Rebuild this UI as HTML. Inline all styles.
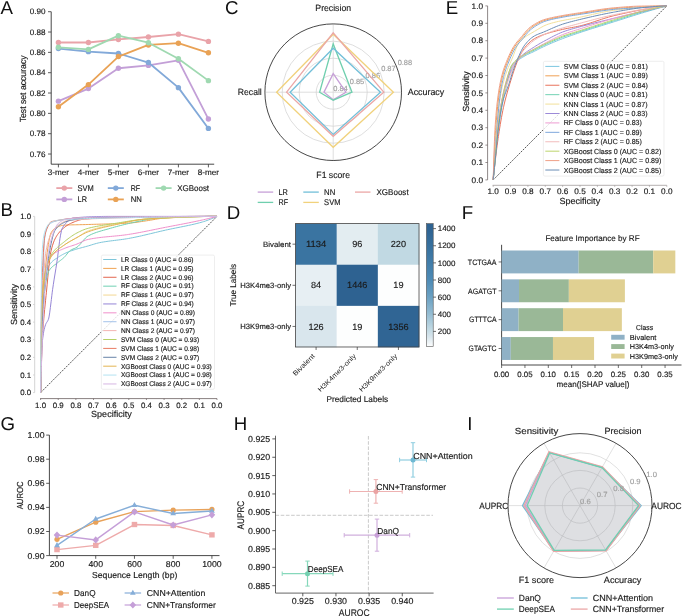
<!DOCTYPE html><html><head><meta charset="utf-8"><style>html,body{margin:0;padding:0;background:#fff;}svg{display:block;}text{font-family:"Liberation Sans",sans-serif;text-rendering:geometricPrecision;}</style></head><body>
<svg style="will-change:transform" width="685" height="616" viewBox="0 0 685 616">
<rect width="685" height="616" fill="#fff"/>
<text x="0.56" y="13.60" font-size="18.7" fill="#111">A</text>
<line x1="51.20" y1="11.70" x2="51.20" y2="164.20" stroke="#333" stroke-width="0.9"/>
<line x1="51.20" y1="164.20" x2="214.20" y2="164.20" stroke="#333" stroke-width="0.9"/>
<line x1="48.00" y1="154.03" x2="51.20" y2="154.03" stroke="#333" stroke-width="0.8"/>
<text x="45.60" y="156.77" font-size="7.95" text-anchor="end" fill="#1a1a1a" stroke="#1a1a1a" stroke-width="0.15" textLength="15.81" lengthAdjust="spacingAndGlyphs">0.76</text>
<line x1="48.00" y1="133.70" x2="51.20" y2="133.70" stroke="#333" stroke-width="0.8"/>
<text x="45.60" y="136.43" font-size="7.95" text-anchor="end" fill="#1a1a1a" stroke="#1a1a1a" stroke-width="0.15" textLength="15.81" lengthAdjust="spacingAndGlyphs">0.78</text>
<line x1="48.00" y1="113.37" x2="51.20" y2="113.37" stroke="#333" stroke-width="0.8"/>
<text x="45.60" y="116.10" font-size="7.95" text-anchor="end" fill="#1a1a1a" stroke="#1a1a1a" stroke-width="0.15" textLength="15.81" lengthAdjust="spacingAndGlyphs">0.80</text>
<line x1="48.00" y1="93.03" x2="51.20" y2="93.03" stroke="#333" stroke-width="0.8"/>
<text x="45.60" y="95.77" font-size="7.95" text-anchor="end" fill="#1a1a1a" stroke="#1a1a1a" stroke-width="0.15" textLength="15.81" lengthAdjust="spacingAndGlyphs">0.82</text>
<line x1="48.00" y1="72.70" x2="51.20" y2="72.70" stroke="#333" stroke-width="0.8"/>
<text x="45.60" y="75.43" font-size="7.95" text-anchor="end" fill="#1a1a1a" stroke="#1a1a1a" stroke-width="0.15" textLength="15.81" lengthAdjust="spacingAndGlyphs">0.84</text>
<line x1="48.00" y1="52.37" x2="51.20" y2="52.37" stroke="#333" stroke-width="0.8"/>
<text x="45.60" y="55.10" font-size="7.95" text-anchor="end" fill="#1a1a1a" stroke="#1a1a1a" stroke-width="0.15" textLength="15.81" lengthAdjust="spacingAndGlyphs">0.86</text>
<line x1="48.00" y1="32.03" x2="51.20" y2="32.03" stroke="#333" stroke-width="0.8"/>
<text x="45.60" y="34.77" font-size="7.95" text-anchor="end" fill="#1a1a1a" stroke="#1a1a1a" stroke-width="0.15" textLength="15.81" lengthAdjust="spacingAndGlyphs">0.88</text>
<line x1="48.00" y1="11.70" x2="51.20" y2="11.70" stroke="#333" stroke-width="0.8"/>
<text x="45.60" y="14.43" font-size="7.95" text-anchor="end" fill="#1a1a1a" stroke="#1a1a1a" stroke-width="0.15" textLength="15.81" lengthAdjust="spacingAndGlyphs">0.90</text>
<line x1="58.40" y1="164.20" x2="58.40" y2="167.40" stroke="#333" stroke-width="0.8"/>
<text x="58.40" y="175.33" font-size="7.95" text-anchor="middle" fill="#1a1a1a" stroke="#1a1a1a" stroke-width="0.15" textLength="21.28" lengthAdjust="spacingAndGlyphs">3-mer</text>
<line x1="88.40" y1="164.20" x2="88.40" y2="167.40" stroke="#333" stroke-width="0.8"/>
<text x="88.40" y="175.33" font-size="7.95" text-anchor="middle" fill="#1a1a1a" stroke="#1a1a1a" stroke-width="0.15" textLength="21.28" lengthAdjust="spacingAndGlyphs">4-mer</text>
<line x1="118.40" y1="164.20" x2="118.40" y2="167.40" stroke="#333" stroke-width="0.8"/>
<text x="118.40" y="175.33" font-size="7.95" text-anchor="middle" fill="#1a1a1a" stroke="#1a1a1a" stroke-width="0.15" textLength="21.28" lengthAdjust="spacingAndGlyphs">5-mer</text>
<line x1="148.40" y1="164.20" x2="148.40" y2="167.40" stroke="#333" stroke-width="0.8"/>
<text x="148.40" y="175.33" font-size="7.95" text-anchor="middle" fill="#1a1a1a" stroke="#1a1a1a" stroke-width="0.15" textLength="21.28" lengthAdjust="spacingAndGlyphs">6-mer</text>
<line x1="178.40" y1="164.20" x2="178.40" y2="167.40" stroke="#333" stroke-width="0.8"/>
<text x="178.40" y="175.33" font-size="7.95" text-anchor="middle" fill="#1a1a1a" stroke="#1a1a1a" stroke-width="0.15" textLength="21.28" lengthAdjust="spacingAndGlyphs">7-mer</text>
<line x1="208.40" y1="164.20" x2="208.40" y2="167.40" stroke="#333" stroke-width="0.8"/>
<text x="208.40" y="175.33" font-size="7.95" text-anchor="middle" fill="#1a1a1a" stroke="#1a1a1a" stroke-width="0.15" textLength="21.28" lengthAdjust="spacingAndGlyphs">8-mer</text>
<text x="22.60" y="91.94" font-size="8.85" text-anchor="middle" fill="#1a1a1a" stroke="#1a1a1a" stroke-width="0.15" textLength="66.90" lengthAdjust="spacingAndGlyphs" transform="rotate(-90 22.60 88.90)">Test set accuracy</text>
<polyline points="58.40,42.50 88.40,42.50 118.40,39.45 148.40,37.02 178.40,34.17 208.40,41.39" fill="none" stroke="#e9a3a9" stroke-width="1.8" stroke-linejoin="round"/>
<circle cx="58.40" cy="42.50" r="2.7" fill="#e9a3a9"/>
<circle cx="88.40" cy="42.50" r="2.7" fill="#e9a3a9"/>
<circle cx="118.40" cy="39.45" r="2.7" fill="#e9a3a9"/>
<circle cx="148.40" cy="37.02" r="2.7" fill="#e9a3a9"/>
<circle cx="178.40" cy="34.17" r="2.7" fill="#e9a3a9"/>
<circle cx="208.40" cy="41.39" r="2.7" fill="#e9a3a9"/>
<polyline points="58.40,101.17 88.40,88.56 118.40,68.23 148.40,65.38 178.40,60.30 208.40,119.06" fill="none" stroke="#c39fd7" stroke-width="1.8" stroke-linejoin="round"/>
<circle cx="58.40" cy="101.17" r="2.7" fill="#c39fd7"/>
<circle cx="88.40" cy="88.56" r="2.7" fill="#c39fd7"/>
<circle cx="118.40" cy="68.23" r="2.7" fill="#c39fd7"/>
<circle cx="148.40" cy="65.38" r="2.7" fill="#c39fd7"/>
<circle cx="178.40" cy="60.30" r="2.7" fill="#c39fd7"/>
<circle cx="208.40" cy="119.06" r="2.7" fill="#c39fd7"/>
<polyline points="58.40,48.61 88.40,51.66 118.40,53.49 148.40,62.53 178.40,87.64 208.40,128.41" fill="none" stroke="#82a9d9" stroke-width="1.8" stroke-linejoin="round"/>
<circle cx="58.40" cy="48.61" r="2.7" fill="#82a9d9"/>
<circle cx="88.40" cy="51.66" r="2.7" fill="#82a9d9"/>
<circle cx="118.40" cy="53.49" r="2.7" fill="#82a9d9"/>
<circle cx="148.40" cy="62.53" r="2.7" fill="#82a9d9"/>
<circle cx="178.40" cy="87.64" r="2.7" fill="#82a9d9"/>
<circle cx="208.40" cy="128.41" r="2.7" fill="#82a9d9"/>
<polyline points="58.40,106.76 88.40,84.59 118.40,56.54 148.40,44.95 178.40,43.22 208.40,52.77" fill="none" stroke="#e9a255" stroke-width="1.8" stroke-linejoin="round"/>
<circle cx="58.40" cy="106.76" r="2.7" fill="#e9a255"/>
<circle cx="88.40" cy="84.59" r="2.7" fill="#e9a255"/>
<circle cx="118.40" cy="56.54" r="2.7" fill="#e9a255"/>
<circle cx="148.40" cy="44.95" r="2.7" fill="#e9a255"/>
<circle cx="178.40" cy="43.22" r="2.7" fill="#e9a255"/>
<circle cx="208.40" cy="52.77" r="2.7" fill="#e9a255"/>
<polyline points="58.40,47.28 88.40,49.42 118.40,35.69 148.40,42.71 178.40,58.77 208.40,80.63" fill="none" stroke="#9fd9b1" stroke-width="1.8" stroke-linejoin="round"/>
<circle cx="58.40" cy="47.28" r="2.7" fill="#9fd9b1"/>
<circle cx="88.40" cy="49.42" r="2.7" fill="#9fd9b1"/>
<circle cx="118.40" cy="35.69" r="2.7" fill="#9fd9b1"/>
<circle cx="148.40" cy="42.71" r="2.7" fill="#9fd9b1"/>
<circle cx="178.40" cy="58.77" r="2.7" fill="#9fd9b1"/>
<circle cx="208.40" cy="80.63" r="2.7" fill="#9fd9b1"/>
<line x1="56.30" y1="188.10" x2="72.30" y2="188.10" stroke="#e9a3a9" stroke-width="1.8"/>
<circle cx="64.30" cy="188.10" r="2.7" fill="#e9a3a9"/>
<text x="77.60" y="190.97" font-size="8.34" text-anchor="start" fill="#1a1a1a" stroke="#1a1a1a" stroke-width="0.15" textLength="16.25" lengthAdjust="spacingAndGlyphs">SVM</text>
<line x1="107.80" y1="188.10" x2="123.80" y2="188.10" stroke="#82a9d9" stroke-width="1.8"/>
<circle cx="115.80" cy="188.10" r="2.7" fill="#82a9d9"/>
<text x="130.70" y="190.97" font-size="8.34" text-anchor="start" fill="#1a1a1a" stroke="#1a1a1a" stroke-width="0.15" textLength="9.46" lengthAdjust="spacingAndGlyphs">RF</text>
<line x1="155.60" y1="188.10" x2="171.60" y2="188.10" stroke="#9fd9b1" stroke-width="1.8"/>
<circle cx="163.60" cy="188.10" r="2.7" fill="#9fd9b1"/>
<text x="177.20" y="190.97" font-size="8.34" text-anchor="start" fill="#1a1a1a" stroke="#1a1a1a" stroke-width="0.15" textLength="31.91" lengthAdjust="spacingAndGlyphs">XGBoost</text>
<line x1="56.30" y1="199.40" x2="72.30" y2="199.40" stroke="#c39fd7" stroke-width="1.8"/>
<circle cx="64.30" cy="199.40" r="2.7" fill="#c39fd7"/>
<text x="77.60" y="202.27" font-size="8.34" text-anchor="start" fill="#1a1a1a" stroke="#1a1a1a" stroke-width="0.15" textLength="9.33" lengthAdjust="spacingAndGlyphs">LR</text>
<line x1="107.80" y1="199.40" x2="123.80" y2="199.40" stroke="#e9a255" stroke-width="1.8"/>
<circle cx="115.80" cy="199.40" r="2.7" fill="#e9a255"/>
<text x="130.70" y="202.27" font-size="8.34" text-anchor="start" fill="#1a1a1a" stroke="#1a1a1a" stroke-width="0.15" textLength="11.15" lengthAdjust="spacingAndGlyphs">NN</text>
<text x="0.62" y="215.80" font-size="18.7" fill="#111">B</text>
<line x1="34.70" y1="216.40" x2="34.70" y2="392.60" stroke="#cfcfcf" stroke-width="0.9"/>
<line x1="40.10" y1="398.60" x2="217.00" y2="398.60" stroke="#6a6060" stroke-width="0.8"/>
<line x1="33.00" y1="392.60" x2="34.70" y2="392.60" stroke="#cfcfcf" stroke-width="0.8"/>
<text x="31.20" y="395.26" font-size="7.73" text-anchor="end" fill="#1a1a1a" stroke="#1a1a1a" stroke-width="0.15" textLength="10.97" lengthAdjust="spacingAndGlyphs">0.0</text>
<line x1="217.00" y1="398.60" x2="217.00" y2="400.00" stroke="#6a6060" stroke-width="0.7"/>
<text x="217.00" y="407.66" font-size="7.73" text-anchor="middle" fill="#1a1a1a" stroke="#1a1a1a" stroke-width="0.15" textLength="10.97" lengthAdjust="spacingAndGlyphs">0.0</text>
<line x1="33.00" y1="374.98" x2="34.70" y2="374.98" stroke="#cfcfcf" stroke-width="0.8"/>
<text x="31.20" y="377.64" font-size="7.73" text-anchor="end" fill="#1a1a1a" stroke="#1a1a1a" stroke-width="0.15" textLength="10.97" lengthAdjust="spacingAndGlyphs">0.1</text>
<line x1="199.36" y1="398.60" x2="199.36" y2="400.00" stroke="#6a6060" stroke-width="0.7"/>
<text x="199.36" y="407.66" font-size="7.73" text-anchor="middle" fill="#1a1a1a" stroke="#1a1a1a" stroke-width="0.15" textLength="10.97" lengthAdjust="spacingAndGlyphs">0.1</text>
<line x1="33.00" y1="357.36" x2="34.70" y2="357.36" stroke="#cfcfcf" stroke-width="0.8"/>
<text x="31.20" y="360.02" font-size="7.73" text-anchor="end" fill="#1a1a1a" stroke="#1a1a1a" stroke-width="0.15" textLength="10.97" lengthAdjust="spacingAndGlyphs">0.2</text>
<line x1="181.72" y1="398.60" x2="181.72" y2="400.00" stroke="#6a6060" stroke-width="0.7"/>
<text x="181.72" y="407.66" font-size="7.73" text-anchor="middle" fill="#1a1a1a" stroke="#1a1a1a" stroke-width="0.15" textLength="10.97" lengthAdjust="spacingAndGlyphs">0.2</text>
<line x1="33.00" y1="339.74" x2="34.70" y2="339.74" stroke="#cfcfcf" stroke-width="0.8"/>
<text x="31.20" y="342.40" font-size="7.73" text-anchor="end" fill="#1a1a1a" stroke="#1a1a1a" stroke-width="0.15" textLength="10.97" lengthAdjust="spacingAndGlyphs">0.3</text>
<line x1="164.08" y1="398.60" x2="164.08" y2="400.00" stroke="#6a6060" stroke-width="0.7"/>
<text x="164.08" y="407.66" font-size="7.73" text-anchor="middle" fill="#1a1a1a" stroke="#1a1a1a" stroke-width="0.15" textLength="10.97" lengthAdjust="spacingAndGlyphs">0.3</text>
<line x1="33.00" y1="322.12" x2="34.70" y2="322.12" stroke="#cfcfcf" stroke-width="0.8"/>
<text x="31.20" y="324.78" font-size="7.73" text-anchor="end" fill="#1a1a1a" stroke="#1a1a1a" stroke-width="0.15" textLength="10.97" lengthAdjust="spacingAndGlyphs">0.4</text>
<line x1="146.44" y1="398.60" x2="146.44" y2="400.00" stroke="#6a6060" stroke-width="0.7"/>
<text x="146.44" y="407.66" font-size="7.73" text-anchor="middle" fill="#1a1a1a" stroke="#1a1a1a" stroke-width="0.15" textLength="10.97" lengthAdjust="spacingAndGlyphs">0.4</text>
<line x1="33.00" y1="304.50" x2="34.70" y2="304.50" stroke="#cfcfcf" stroke-width="0.8"/>
<text x="31.20" y="307.16" font-size="7.73" text-anchor="end" fill="#1a1a1a" stroke="#1a1a1a" stroke-width="0.15" textLength="10.97" lengthAdjust="spacingAndGlyphs">0.5</text>
<line x1="128.80" y1="398.60" x2="128.80" y2="400.00" stroke="#6a6060" stroke-width="0.7"/>
<text x="128.80" y="407.66" font-size="7.73" text-anchor="middle" fill="#1a1a1a" stroke="#1a1a1a" stroke-width="0.15" textLength="10.97" lengthAdjust="spacingAndGlyphs">0.5</text>
<line x1="33.00" y1="286.88" x2="34.70" y2="286.88" stroke="#cfcfcf" stroke-width="0.8"/>
<text x="31.20" y="289.54" font-size="7.73" text-anchor="end" fill="#1a1a1a" stroke="#1a1a1a" stroke-width="0.15" textLength="10.97" lengthAdjust="spacingAndGlyphs">0.6</text>
<line x1="111.16" y1="398.60" x2="111.16" y2="400.00" stroke="#6a6060" stroke-width="0.7"/>
<text x="111.16" y="407.66" font-size="7.73" text-anchor="middle" fill="#1a1a1a" stroke="#1a1a1a" stroke-width="0.15" textLength="10.97" lengthAdjust="spacingAndGlyphs">0.6</text>
<line x1="33.00" y1="269.26" x2="34.70" y2="269.26" stroke="#cfcfcf" stroke-width="0.8"/>
<text x="31.20" y="271.92" font-size="7.73" text-anchor="end" fill="#1a1a1a" stroke="#1a1a1a" stroke-width="0.15" textLength="10.97" lengthAdjust="spacingAndGlyphs">0.7</text>
<line x1="93.52" y1="398.60" x2="93.52" y2="400.00" stroke="#6a6060" stroke-width="0.7"/>
<text x="93.52" y="407.66" font-size="7.73" text-anchor="middle" fill="#1a1a1a" stroke="#1a1a1a" stroke-width="0.15" textLength="10.97" lengthAdjust="spacingAndGlyphs">0.7</text>
<line x1="33.00" y1="251.64" x2="34.70" y2="251.64" stroke="#cfcfcf" stroke-width="0.8"/>
<text x="31.20" y="254.30" font-size="7.73" text-anchor="end" fill="#1a1a1a" stroke="#1a1a1a" stroke-width="0.15" textLength="10.97" lengthAdjust="spacingAndGlyphs">0.8</text>
<line x1="75.88" y1="398.60" x2="75.88" y2="400.00" stroke="#6a6060" stroke-width="0.7"/>
<text x="75.88" y="407.66" font-size="7.73" text-anchor="middle" fill="#1a1a1a" stroke="#1a1a1a" stroke-width="0.15" textLength="10.97" lengthAdjust="spacingAndGlyphs">0.8</text>
<line x1="33.00" y1="234.02" x2="34.70" y2="234.02" stroke="#cfcfcf" stroke-width="0.8"/>
<text x="31.20" y="236.68" font-size="7.73" text-anchor="end" fill="#1a1a1a" stroke="#1a1a1a" stroke-width="0.15" textLength="10.97" lengthAdjust="spacingAndGlyphs">0.9</text>
<line x1="58.24" y1="398.60" x2="58.24" y2="400.00" stroke="#6a6060" stroke-width="0.7"/>
<text x="58.24" y="407.66" font-size="7.73" text-anchor="middle" fill="#1a1a1a" stroke="#1a1a1a" stroke-width="0.15" textLength="10.97" lengthAdjust="spacingAndGlyphs">0.9</text>
<line x1="33.00" y1="216.40" x2="34.70" y2="216.40" stroke="#cfcfcf" stroke-width="0.8"/>
<text x="31.20" y="219.06" font-size="7.73" text-anchor="end" fill="#1a1a1a" stroke="#1a1a1a" stroke-width="0.15" textLength="10.97" lengthAdjust="spacingAndGlyphs">1.0</text>
<line x1="40.60" y1="398.60" x2="40.60" y2="400.00" stroke="#6a6060" stroke-width="0.7"/>
<text x="40.60" y="407.66" font-size="7.73" text-anchor="middle" fill="#1a1a1a" stroke="#1a1a1a" stroke-width="0.15" textLength="10.97" lengthAdjust="spacingAndGlyphs">1.0</text>
<text x="13.50" y="307.54" font-size="8.85" text-anchor="middle" fill="#1a1a1a" stroke="#1a1a1a" stroke-width="0.15" textLength="41.13" lengthAdjust="spacingAndGlyphs" transform="rotate(-90 13.50 304.50)">Sensitivity</text>
<text x="111.40" y="417.04" font-size="8.85" text-anchor="middle" fill="#1a1a1a" stroke="#1a1a1a" stroke-width="0.15" textLength="40.72" lengthAdjust="spacingAndGlyphs">Specificity</text>
<line x1="40.60" y1="392.60" x2="217.00" y2="216.40" stroke="#2a2a2a" stroke-width="0.8" stroke-dasharray="1.9 1.1"/>
<polyline points="40.60,392.60 40.61,391.71 40.65,389.04 40.71,384.60 40.80,378.46 40.91,370.78 41.05,361.88 41.21,352.35 41.40,343.14 41.48,339.74 41.61,335.15 41.85,327.13 42.11,319.12 42.39,311.41 42.71,304.38 43.04,298.43 43.25,295.69 43.40,293.91 43.79,290.00 44.20,286.48 44.64,283.35 45.10,280.52 45.58,277.89 45.89,276.31 46.09,275.29 46.63,272.66 47.19,270.18 47.78,268.06 48.36,266.62 48.39,266.57 49.02,265.51 49.68,264.51 50.37,263.58 51.08,262.72 51.81,261.93 52.57,261.20 53.36,260.53 54.17,259.91 55.00,259.31 55.86,258.74 56.74,258.16 57.53,257.63 57.65,257.55 58.59,256.93 59.55,256.33 60.53,255.74 61.54,255.16 62.57,254.60 63.63,254.05 64.72,253.52 65.82,253.00 66.96,252.50 68.12,252.01 69.30,251.54 70.41,251.11 70.51,251.08 71.74,250.63 73.00,250.20 74.28,249.78 75.59,249.38 76.92,248.98 78.28,248.60 79.66,248.22 81.07,247.84 82.50,247.46 83.96,247.08 85.44,246.68 86.95,246.26 87.88,246.00 88.48,245.82 90.04,245.36 91.62,244.87 93.23,244.37 94.86,243.88 96.52,243.41 98.20,242.98 99.69,242.65 99.91,242.61 101.64,242.28 103.39,241.98 105.18,241.69 106.98,241.42 108.81,241.16 110.67,240.92 112.55,240.68 114.46,240.44 116.39,240.21 118.34,239.96 120.32,239.71 122.33,239.44 124.36,239.15 126.41,238.82 127.74,238.60 128.49,238.47 130.60,238.08 132.73,237.67 134.89,237.24 137.07,236.78 139.27,236.30 141.50,235.80 143.75,235.28 146.03,234.74 148.34,234.20 150.67,233.64 153.02,233.07 155.40,232.50 157.81,231.93 160.23,231.35 162.69,230.78 165.17,230.22 165.49,230.14 167.67,229.67 170.20,229.13 172.75,228.60 175.33,228.08 177.94,227.57 180.56,227.04 183.22,226.51 185.90,225.96 188.60,225.39 191.33,224.79 194.08,224.16 196.86,223.48 199.66,222.75 202.49,221.96 203.42,221.69 205.34,221.08 208.22,220.05 211.12,218.91 214.05,217.67 217.00,216.40" fill="none" stroke="#7ec6da" stroke-width="1.0" stroke-linejoin="round"/>
<polyline points="40.60,392.60 40.61,391.98 40.65,390.14 40.71,387.08 40.80,382.84 40.91,377.49 41.05,371.11 41.21,363.85 41.40,355.92 41.61,347.63 41.83,339.74 41.85,339.39 42.11,331.05 42.39,322.35 42.71,313.54 43.04,304.94 43.40,296.99 43.78,290.40 43.79,290.20 44.20,284.18 44.64,278.29 45.10,272.58 45.58,267.10 46.09,261.90 46.63,257.02 47.19,252.47 47.78,248.28 48.36,244.59 48.39,244.45 49.02,240.83 49.68,237.48 50.37,234.70 51.01,232.96 51.08,232.83 51.81,231.56 52.57,230.47 53.36,229.58 54.17,228.87 54.89,228.38 55.00,228.32 55.86,227.83 56.74,227.37 57.65,226.93 58.59,226.52 59.55,226.15 60.53,225.83 61.54,225.56 62.57,225.36 63.63,225.23 63.88,225.21 64.72,225.16 65.82,225.10 66.96,225.04 68.12,224.99 69.30,224.95 70.51,224.90 71.74,224.87 73.00,224.83 74.28,224.80 75.59,224.77 76.92,224.74 78.28,224.72 79.66,224.69 81.07,224.67 82.50,224.64 83.96,224.61 85.44,224.57 86.95,224.53 87.88,224.51 88.48,224.49 90.04,224.44 91.62,224.39 93.23,224.35 94.86,224.30 96.52,224.26 98.20,224.21 99.91,224.17 101.64,224.12 103.39,224.08 105.18,224.03 106.98,223.98 108.81,223.93 110.67,223.87 112.55,223.81 114.46,223.75 116.39,223.68 118.34,223.60 120.32,223.52 122.33,223.43 124.36,223.34 126.41,223.23 128.49,223.11 128.80,223.10 130.60,222.97 132.73,222.76 134.89,222.50 137.07,222.21 139.27,221.88 141.50,221.54 143.75,221.20 146.03,220.86 146.44,220.81 148.34,220.52 150.67,220.13 153.02,219.71 155.40,219.29 157.81,218.89 160.23,218.54 162.69,218.27 164.08,218.16 165.17,218.10 167.67,217.95 170.20,217.81 172.75,217.67 175.33,217.53 177.94,217.40 180.56,217.28 183.22,217.16 185.90,217.05 188.60,216.95 191.33,216.85 194.08,216.76 196.86,216.68 199.66,216.61 202.49,216.55 205.34,216.50 208.22,216.46 211.12,216.43 214.05,216.41 217.00,216.40" fill="none" stroke="#f0a352" stroke-width="1.0" stroke-linejoin="round"/>
<polyline points="40.60,392.60 40.61,392.16 40.65,390.83 40.71,388.62 40.80,385.52 40.91,381.55 41.05,376.76 41.21,371.20 41.40,365.00 41.61,358.36 41.85,351.55 42.11,344.99 42.36,339.74 42.39,339.21 42.71,333.94 43.04,328.76 43.40,323.71 43.79,318.84 44.20,314.12 44.64,309.53 45.10,304.97 45.58,300.34 46.09,295.43 46.42,292.17 46.63,290.03 47.19,284.13 47.78,277.91 48.39,271.55 49.02,265.32 49.68,259.53 50.37,254.55 51.01,251.11 51.08,250.82 51.81,247.89 52.57,245.25 53.36,242.88 54.17,240.78 55.00,238.93 55.86,237.29 56.12,236.84 56.74,235.83 57.65,234.47 58.59,233.21 59.55,232.04 60.53,230.95 61.54,229.94 62.57,228.98 63.63,228.06 63.88,227.85 64.72,227.18 65.82,226.32 66.96,225.51 68.12,224.76 69.30,224.08 70.51,223.48 70.59,223.45 71.74,222.94 73.00,222.40 74.28,221.87 75.59,221.35 76.92,220.86 78.28,220.40 79.66,219.98 81.07,219.62 82.50,219.33 83.96,219.12 84.70,219.04 85.44,218.98 86.95,218.87 88.48,218.75 90.04,218.64 91.62,218.54 93.23,218.44 94.86,218.34 96.52,218.25 98.20,218.17 99.91,218.08 101.64,218.01 103.39,217.93 105.18,217.86 106.98,217.80 108.81,217.74 110.67,217.68 112.55,217.62 114.46,217.57 116.39,217.53 118.34,217.48 120.32,217.44 122.33,217.40 124.36,217.36 126.41,217.32 128.49,217.29 128.80,217.28 130.60,217.25 132.73,217.21 134.89,217.18 137.07,217.14 139.27,217.11 141.50,217.07 143.75,217.04 146.03,217.00 148.34,216.97 150.67,216.93 153.02,216.90 155.40,216.87 157.81,216.83 160.23,216.80 162.69,216.77 165.17,216.74 167.67,216.71 170.20,216.68 172.75,216.65 175.33,216.63 177.94,216.60 180.56,216.58 183.22,216.55 185.90,216.53 188.60,216.51 191.33,216.49 194.08,216.47 196.86,216.46 199.66,216.44 202.49,216.43 205.34,216.42 208.22,216.41 211.12,216.40 214.05,216.40 217.00,216.40" fill="none" stroke="#e3664f" stroke-width="1.0" stroke-linejoin="round"/>
<polyline points="40.60,392.60 40.61,391.72 40.65,389.05 40.71,384.57 40.80,378.28 40.91,370.31 41.05,361.06 41.21,351.34 41.40,342.58 41.48,339.74 41.61,336.18 41.85,330.07 42.11,324.02 42.39,318.18 42.71,312.68 43.04,307.60 43.40,302.99 43.79,298.84 44.13,295.69 44.20,295.06 44.64,291.41 45.10,287.81 45.58,284.33 46.09,281.05 46.63,278.06 47.19,275.45 47.78,273.34 48.36,271.90 48.39,271.86 49.02,270.75 49.68,269.74 50.37,268.81 51.08,267.98 51.81,267.22 52.57,266.52 53.36,265.89 54.17,265.28 55.00,264.69 55.86,264.07 56.74,263.40 57.53,262.74 57.65,262.64 58.59,261.85 59.55,261.10 60.53,260.36 61.54,259.59 62.57,258.77 63.63,257.86 63.88,257.63 64.72,256.78 65.82,255.48 66.96,254.05 68.12,252.62 69.30,251.33 70.41,250.41 70.51,250.34 71.74,249.63 73.00,249.06 74.28,248.55 75.59,247.98 76.92,247.24 76.94,247.24 78.28,246.19 79.66,244.81 81.07,243.19 82.50,241.45 83.96,239.70 85.44,238.08 86.95,236.74 87.88,236.13 88.48,235.80 90.04,235.01 91.62,234.28 93.23,233.60 94.86,232.96 96.52,232.37 98.20,231.82 99.91,231.29 101.64,230.78 103.39,230.28 105.18,229.78 106.98,229.28 108.81,228.75 108.87,228.73 110.67,228.21 112.55,227.67 114.46,227.14 116.39,226.61 118.34,226.08 120.32,225.57 122.33,225.06 124.36,224.55 126.41,224.05 128.49,223.56 130.60,223.08 132.73,222.61 134.89,222.15 137.07,221.69 137.09,221.69 139.27,221.23 141.50,220.74 143.75,220.25 146.03,219.76 148.34,219.31 150.67,218.89 153.02,218.55 155.40,218.28 157.02,218.16 157.81,218.12 160.23,217.98 162.69,217.85 165.17,217.73 167.67,217.60 170.20,217.49 172.75,217.37 175.33,217.26 177.94,217.16 180.56,217.06 183.22,216.97 185.90,216.89 188.60,216.81 191.33,216.73 194.08,216.67 196.86,216.61 199.66,216.55 202.49,216.51 205.34,216.47 208.22,216.44 211.12,216.42 214.05,216.40 217.00,216.40" fill="none" stroke="#70d0b2" stroke-width="1.0" stroke-linejoin="round"/>
<polyline points="40.60,392.60 40.61,391.40 40.65,387.79 40.71,381.68 40.80,373.08 40.91,362.17 41.05,349.56 41.21,336.54 41.40,325.39 41.48,322.12 41.61,318.30 41.85,311.73 42.11,305.27 42.39,299.11 42.71,293.40 43.04,288.30 43.40,283.93 43.79,280.37 44.13,278.07 44.20,277.66 44.64,275.27 45.10,272.97 45.58,270.77 46.09,268.68 46.63,266.72 47.19,264.90 47.78,263.23 48.39,261.71 49.02,260.32 49.68,259.07 50.37,257.91 51.01,256.93 51.08,256.83 51.81,255.79 52.57,254.79 53.36,253.84 54.17,252.93 55.00,252.07 55.86,251.25 56.74,250.47 57.65,249.72 58.59,249.00 59.55,248.30 60.53,247.61 61.54,246.92 62.57,246.22 63.63,245.48 63.88,245.30 64.72,244.71 65.82,243.97 66.96,243.25 68.12,242.55 69.30,241.85 70.51,241.17 71.74,240.48 73.00,239.78 74.28,239.07 75.59,238.33 76.92,237.55 76.94,237.54 78.28,236.71 79.66,235.81 81.07,234.86 82.50,233.92 83.96,233.00 85.44,232.14 86.95,231.40 87.88,231.02 88.48,230.80 90.04,230.25 91.62,229.73 93.23,229.23 94.86,228.75 96.52,228.30 98.20,227.86 99.91,227.44 101.64,227.04 103.39,226.65 105.18,226.27 106.98,225.90 108.81,225.53 110.67,225.16 112.55,224.79 114.46,224.41 114.86,224.33 116.39,224.02 118.34,223.62 120.32,223.21 122.33,222.80 124.36,222.38 126.41,221.97 128.49,221.56 130.60,221.17 132.73,220.78 134.89,220.42 137.07,220.08 139.27,219.77 141.50,219.49 143.75,219.26 146.03,219.07 146.44,219.04 148.34,218.92 150.67,218.77 153.02,218.62 155.40,218.47 157.81,218.33 160.23,218.18 162.69,218.05 165.17,217.91 167.67,217.78 170.20,217.65 172.75,217.53 175.33,217.41 177.94,217.29 180.56,217.18 183.22,217.08 185.90,216.98 188.60,216.89 191.33,216.80 194.08,216.72 196.86,216.65 199.66,216.59 202.49,216.53 205.34,216.49 208.22,216.45 211.12,216.42 214.05,216.41 217.00,216.40" fill="none" stroke="#f3d893" stroke-width="1.0" stroke-linejoin="round"/>
<polyline points="40.60,392.60 40.61,392.05 40.65,390.41 40.71,387.70 40.80,384.01 40.91,379.45 41.05,374.26 41.13,371.46 41.21,368.70 41.40,362.26 41.61,355.30 41.85,348.77 42.10,344.32 42.11,344.24 42.39,341.33 42.71,338.53 43.04,335.90 43.40,333.48 43.79,331.29 44.20,329.34 44.64,327.62 45.10,326.08 45.54,324.76 45.58,324.64 46.09,323.44 46.63,322.52 47.19,321.71 47.78,320.76 48.39,319.39 48.54,318.95 49.02,316.96 49.68,312.87 50.37,307.60 51.08,301.81 51.36,299.57 51.81,295.77 52.24,292.17 52.57,289.73 53.36,284.30 54.17,279.11 55.00,273.98 55.86,268.72 56.74,263.07 57.53,257.63 57.65,256.76 58.59,249.07 59.55,241.27 60.00,238.25 60.53,235.20 61.54,230.32 61.94,229.09 62.57,227.72 63.63,225.87 64.72,224.43 65.82,223.25 66.53,222.57 66.96,222.16 68.12,221.04 69.30,219.98 70.51,219.05 71.74,218.35 73.00,217.99 73.06,217.99 74.28,217.87 75.59,217.75 76.92,217.63 78.28,217.52 79.66,217.41 81.07,217.31 82.50,217.21 83.96,217.12 85.44,217.03 86.95,216.95 88.48,216.87 90.04,216.80 91.62,216.74 93.23,216.68 94.86,216.63 96.52,216.58 98.20,216.54 99.91,216.50 101.64,216.47 103.39,216.45 105.18,216.43 106.98,216.41 108.81,216.40 110.67,216.40 111.16,216.40 112.55,216.40 114.46,216.40 116.39,216.40 118.34,216.40 120.32,216.40 122.33,216.40 124.36,216.40 126.41,216.40 128.49,216.40 130.60,216.40 132.73,216.40 134.89,216.40 137.07,216.40 139.27,216.40 141.50,216.40 143.75,216.40 146.03,216.40 148.34,216.40 150.67,216.40 153.02,216.40 155.40,216.40 157.81,216.40 160.23,216.40 162.69,216.40 165.17,216.40 167.67,216.40 170.20,216.40 172.75,216.40 175.33,216.40 177.94,216.40 180.56,216.40 183.22,216.40 185.90,216.40 188.60,216.40 191.33,216.40 194.08,216.40 196.86,216.40 199.66,216.40 202.49,216.40 205.34,216.40 208.22,216.40 211.12,216.40 214.05,216.40 217.00,216.40" fill="none" stroke="#9585d6" stroke-width="1.0" stroke-linejoin="round"/>
<polyline points="40.60,392.60 40.61,391.40 40.65,387.79 40.71,381.68 40.80,373.08 40.91,362.17 41.05,349.56 41.21,336.54 41.40,325.39 41.48,322.12 41.61,318.30 41.85,311.78 42.11,305.39 42.39,299.32 42.71,293.71 43.04,288.68 43.40,284.32 43.79,280.63 44.13,278.07 44.20,277.59 44.64,274.84 45.10,272.28 45.58,269.91 46.09,267.74 46.63,265.78 47.19,263.99 47.78,262.35 48.39,260.82 48.54,260.45 49.02,259.34 49.68,257.99 50.37,256.83 51.01,256.05 51.08,255.98 51.81,255.29 52.57,254.63 53.36,254.01 54.17,253.41 55.00,252.86 55.86,252.33 56.74,251.83 57.65,251.36 58.59,250.91 59.55,250.48 60.53,250.05 61.54,249.63 62.57,249.20 63.63,248.75 63.88,248.64 64.72,248.29 65.82,247.85 66.96,247.43 68.12,247.02 69.30,246.63 70.51,246.24 71.74,245.84 73.00,245.44 74.28,245.01 75.59,244.56 76.92,244.07 76.94,244.06 78.28,243.51 79.66,242.87 81.07,242.19 82.50,241.49 83.96,240.82 85.44,240.21 86.95,239.71 87.88,239.48 88.48,239.35 90.04,239.04 91.62,238.75 93.23,238.48 94.86,238.22 96.52,237.98 98.20,237.75 99.91,237.54 101.64,237.34 103.39,237.14 105.18,236.96 106.98,236.78 108.81,236.61 110.67,236.44 112.55,236.26 114.46,236.09 116.39,235.90 118.34,235.71 120.32,235.50 122.33,235.27 124.36,235.02 126.41,234.74 127.74,234.55 128.49,234.43 130.60,234.10 132.73,233.75 134.89,233.38 137.07,232.99 139.27,232.58 141.50,232.16 143.75,231.72 146.03,231.26 148.34,230.80 150.67,230.33 153.02,229.85 155.40,229.36 157.81,228.87 160.23,228.37 162.69,227.88 165.17,227.39 165.49,227.32 167.67,226.90 170.20,226.41 172.75,225.92 175.33,225.43 177.94,224.93 180.56,224.43 183.22,223.91 185.90,223.39 188.60,222.86 191.33,222.31 194.08,221.75 196.86,221.17 199.66,220.57 202.49,219.96 203.42,219.75 205.34,219.31 208.22,218.62 211.12,217.90 214.05,217.16 217.00,216.40" fill="none" stroke="#f08fcb" stroke-width="1.0" stroke-linejoin="round"/>
<polyline points="40.60,392.60 40.61,391.53 40.65,388.34 40.71,383.02 40.80,375.65 40.91,366.44 41.05,355.85 41.21,344.72 41.40,334.45 41.48,330.93 41.61,326.62 41.85,320.30 42.11,315.12 42.39,310.46 42.71,305.09 43.04,297.01 43.25,290.05 43.40,279.48 43.78,251.11 43.79,250.83 44.20,243.66 44.64,238.34 45.10,234.65 45.58,232.23 45.72,231.73 46.09,230.44 46.63,228.85 47.19,227.45 47.78,226.25 48.39,225.27 49.02,224.49 49.60,223.98 49.68,223.91 50.37,223.43 51.08,222.99 51.81,222.58 52.57,222.20 53.36,221.87 54.17,221.56 55.00,221.29 55.86,221.04 56.74,220.82 57.53,220.63 57.65,220.60 58.59,220.39 59.55,220.18 60.53,219.98 61.54,219.79 62.57,219.60 63.63,219.42 64.72,219.26 65.82,219.10 66.96,218.97 68.12,218.85 69.30,218.76 70.41,218.69 70.51,218.69 71.74,218.63 73.00,218.57 74.28,218.51 75.59,218.45 76.92,218.40 78.28,218.34 79.66,218.29 81.07,218.24 82.50,218.19 83.96,218.14 85.44,218.09 86.95,218.05 88.48,218.00 90.04,217.96 91.62,217.92 93.23,217.88 94.86,217.84 96.52,217.80 98.20,217.76 99.91,217.73 101.64,217.69 103.39,217.66 105.18,217.63 106.98,217.60 108.81,217.57 110.67,217.54 112.55,217.51 114.46,217.48 116.39,217.45 118.34,217.43 120.32,217.40 122.33,217.37 124.36,217.34 126.41,217.32 128.49,217.29 128.80,217.28 130.60,217.25 132.73,217.22 134.89,217.19 137.07,217.16 139.27,217.13 141.50,217.10 143.75,217.07 146.03,217.04 148.34,217.00 150.67,216.97 153.02,216.94 155.40,216.91 157.81,216.88 160.23,216.85 162.69,216.82 165.17,216.79 167.67,216.76 170.20,216.73 172.75,216.70 175.33,216.67 177.94,216.64 180.56,216.62 183.22,216.59 185.90,216.57 188.60,216.54 191.33,216.52 194.08,216.50 196.86,216.48 199.66,216.47 202.49,216.45 205.34,216.44 208.22,216.42 211.12,216.41 214.05,216.41 217.00,216.40" fill="none" stroke="#a3c2ea" stroke-width="1.0" stroke-linejoin="round"/>
<polyline points="40.60,392.60 40.61,391.83 40.65,389.53 40.71,385.69 40.80,380.31 40.91,373.43 41.05,365.13 41.21,355.56 41.40,344.97 41.61,333.77 41.85,322.56 42.11,312.18 42.36,304.50 42.39,303.77 42.71,296.46 43.04,289.15 43.40,282.00 43.79,275.13 44.20,268.71 44.64,262.87 45.10,257.80 45.58,253.65 45.89,251.64 46.09,250.52 46.63,247.77 47.19,245.22 47.78,242.89 48.39,240.78 49.02,238.87 49.68,237.17 50.37,235.63 51.08,234.22 51.18,234.02 51.81,232.89 52.57,231.63 53.36,230.43 54.17,229.31 55.00,228.27 55.86,227.31 56.74,226.44 57.65,225.66 58.24,225.21 58.59,224.96 59.55,224.28 60.53,223.62 61.54,222.98 62.57,222.39 63.63,221.86 64.72,221.41 65.82,221.05 66.96,220.82 67.06,220.81 68.12,220.67 69.30,220.53 70.51,220.39 71.74,220.25 73.00,220.12 74.28,219.99 75.59,219.86 76.92,219.75 78.28,219.63 79.66,219.52 81.07,219.41 82.50,219.31 83.96,219.22 85.44,219.13 86.95,219.04 88.48,218.96 90.04,218.88 91.62,218.80 93.23,218.73 94.86,218.67 96.52,218.61 98.20,218.55 99.91,218.49 101.64,218.43 103.39,218.38 105.18,218.33 106.98,218.28 108.81,218.23 110.67,218.18 111.16,218.16 112.55,218.12 114.46,218.07 116.39,218.02 118.34,217.96 120.32,217.91 122.33,217.85 124.36,217.80 126.41,217.75 128.49,217.69 130.60,217.64 132.73,217.59 134.89,217.53 137.07,217.48 139.27,217.43 141.50,217.37 143.75,217.32 146.03,217.27 148.34,217.22 150.67,217.17 153.02,217.12 155.40,217.07 157.81,217.02 160.23,216.98 162.69,216.93 165.17,216.89 167.67,216.84 170.20,216.80 172.75,216.76 175.33,216.72 177.94,216.69 180.56,216.65 183.22,216.62 185.90,216.58 188.60,216.56 191.33,216.53 194.08,216.50 196.86,216.48 199.66,216.46 202.49,216.44 205.34,216.43 208.22,216.42 211.12,216.41 214.05,216.40 217.00,216.40" fill="none" stroke="#f3b4b2" stroke-width="1.0" stroke-linejoin="round"/>
<polyline points="40.60,392.60 40.61,391.40 40.65,387.79 40.71,381.68 40.80,373.08 40.91,362.17 41.05,349.56 41.21,336.54 41.40,325.39 41.48,322.12 41.61,318.30 41.85,311.75 42.11,305.32 42.39,299.19 42.71,293.51 43.04,288.44 43.40,284.07 43.79,280.47 44.13,278.07 44.20,277.63 44.64,275.09 45.10,272.62 45.58,270.26 46.09,268.01 46.63,265.90 47.19,263.93 47.78,262.12 48.39,260.45 49.02,258.93 49.68,257.54 50.37,256.26 51.01,255.16 51.08,255.05 51.81,253.90 52.57,252.79 53.36,251.73 54.17,250.73 55.00,249.77 55.86,248.86 56.74,247.99 57.65,247.15 58.59,246.35 59.55,245.56 60.53,244.78 61.54,243.99 62.57,243.18 63.63,242.33 63.88,242.13 64.72,241.44 65.82,240.54 66.96,239.64 68.12,238.74 69.30,237.85 70.51,236.97 71.74,236.11 73.00,235.27 74.28,234.47 75.59,233.70 76.92,232.97 76.94,232.96 78.28,232.27 79.66,231.59 81.07,230.92 82.50,230.29 83.96,229.69 85.44,229.14 86.95,228.65 87.88,228.38 88.48,228.22 90.04,227.82 91.62,227.44 93.23,227.08 94.86,226.74 96.52,226.41 98.20,226.09 99.91,225.79 101.64,225.50 103.39,225.21 105.18,224.93 106.98,224.65 108.81,224.38 110.67,224.10 112.55,223.81 114.46,223.51 114.86,223.45 116.39,223.20 118.34,222.88 120.32,222.56 122.33,222.22 124.36,221.88 126.41,221.54 128.49,221.21 130.60,220.88 132.73,220.56 134.89,220.25 137.07,219.96 139.27,219.69 141.50,219.45 143.75,219.24 146.03,219.07 146.44,219.04 148.34,218.92 150.67,218.78 153.02,218.63 155.40,218.49 157.81,218.35 160.23,218.21 162.69,218.07 165.17,217.94 167.67,217.81 170.20,217.68 172.75,217.55 175.33,217.43 177.94,217.32 180.56,217.21 183.22,217.10 185.90,217.00 188.60,216.90 191.33,216.82 194.08,216.74 196.86,216.66 199.66,216.60 202.49,216.54 205.34,216.49 208.22,216.45 211.12,216.42 214.05,216.41 217.00,216.40" fill="none" stroke="#b5d066" stroke-width="1.0" stroke-linejoin="round"/>
<polyline points="40.60,392.60 40.61,391.06 40.65,386.42 40.71,378.69 40.80,367.97 40.91,354.58 41.05,339.24 41.21,323.31 41.40,309.10 41.48,304.50 41.61,298.82 41.85,289.46 42.11,280.73 42.39,272.77 42.71,265.56 43.04,258.90 43.25,255.16 43.40,252.37 43.79,245.98 44.20,240.62 44.48,238.25 44.64,237.32 45.10,234.88 45.58,232.75 46.09,230.93 46.63,229.37 47.19,228.00 47.66,226.97 47.78,226.72 48.39,225.45 49.02,224.23 49.68,223.15 50.37,222.31 51.01,221.86 51.08,221.83 51.81,221.56 52.57,221.33 53.36,221.14 54.17,220.98 55.00,220.83 55.86,220.70 56.74,220.58 57.53,220.45 57.65,220.43 58.59,220.28 59.55,220.12 60.53,219.95 61.54,219.79 62.57,219.62 63.63,219.45 64.72,219.28 65.82,219.12 66.96,218.96 68.12,218.81 69.30,218.66 70.51,218.53 71.74,218.41 73.00,218.31 74.28,218.23 75.59,218.17 75.88,218.16 76.92,218.13 78.28,218.09 79.66,218.06 81.07,218.02 82.50,217.98 83.96,217.94 85.44,217.90 86.95,217.86 88.48,217.82 90.04,217.78 91.62,217.74 93.23,217.71 94.86,217.67 96.52,217.63 98.20,217.59 99.91,217.55 101.64,217.51 103.39,217.47 105.18,217.44 106.98,217.40 108.81,217.36 110.67,217.33 112.55,217.29 114.46,217.25 116.39,217.22 118.34,217.18 120.32,217.15 122.33,217.11 124.36,217.08 126.41,217.05 128.49,217.02 130.60,216.98 132.73,216.95 134.89,216.92 137.07,216.89 139.27,216.86 141.50,216.83 143.75,216.81 146.03,216.78 148.34,216.75 150.67,216.73 153.02,216.70 155.40,216.68 157.81,216.66 160.23,216.63 162.69,216.61 165.17,216.59 167.67,216.57 170.20,216.55 172.75,216.54 175.33,216.52 177.94,216.51 180.56,216.49 183.22,216.48 185.90,216.47 188.60,216.45 191.33,216.44 194.08,216.43 196.86,216.43 199.66,216.42 202.49,216.41 205.34,216.41 208.22,216.40 211.12,216.40 214.05,216.40 217.00,216.40" fill="none" stroke="#e97b63" stroke-width="1.0" stroke-linejoin="round"/>
<polyline points="40.60,392.60 40.61,391.99 40.65,390.15 40.71,387.09 40.80,382.81 40.91,377.33 41.05,370.72 41.21,363.09 41.40,354.65 41.61,345.71 41.85,336.74 42.11,328.38 42.36,322.12 42.39,321.52 42.71,315.61 43.04,309.90 43.40,304.45 43.79,299.30 44.20,294.44 44.64,289.83 45.10,285.37 45.58,280.90 45.89,278.07 46.09,276.23 46.63,271.54 47.19,266.94 47.78,262.49 48.39,258.25 49.02,254.29 49.60,251.11 49.68,250.67 50.37,247.18 51.08,243.69 51.81,240.31 52.57,237.14 53.36,234.31 54.17,231.98 54.89,230.50 55.00,230.32 55.86,229.04 56.74,227.90 57.65,226.89 58.59,226.01 59.55,225.23 60.53,224.53 61.42,223.98 61.54,223.90 62.57,223.31 63.63,222.75 64.72,222.24 65.82,221.78 66.96,221.36 68.12,221.00 68.82,220.81 69.30,220.68 70.51,220.39 71.74,220.09 73.00,219.80 74.28,219.53 75.59,219.26 76.92,219.02 78.28,218.79 79.66,218.59 81.07,218.42 82.50,218.29 83.96,218.19 84.70,218.16 85.44,218.14 86.95,218.09 88.48,218.04 90.04,218.00 91.62,217.95 93.23,217.90 94.86,217.86 96.52,217.81 98.20,217.77 99.91,217.72 101.64,217.67 103.39,217.63 105.18,217.58 106.98,217.54 108.81,217.50 110.67,217.45 112.55,217.41 114.46,217.37 116.39,217.33 118.34,217.28 120.32,217.24 122.33,217.20 124.36,217.16 126.41,217.13 128.49,217.09 130.60,217.05 132.73,217.02 134.89,216.98 137.07,216.95 139.27,216.91 141.50,216.88 143.75,216.85 146.03,216.82 148.34,216.79 150.67,216.76 153.02,216.73 155.40,216.70 157.81,216.68 160.23,216.65 162.69,216.63 165.17,216.61 167.67,216.59 170.20,216.57 172.75,216.55 175.33,216.53 177.94,216.51 180.56,216.50 183.22,216.48 185.90,216.47 188.60,216.46 191.33,216.45 194.08,216.44 196.86,216.43 199.66,216.42 202.49,216.41 205.34,216.41 208.22,216.40 211.12,216.40 214.05,216.40 217.00,216.40" fill="none" stroke="#6683a8" stroke-width="1.0" stroke-linejoin="round"/>
<polyline points="40.60,392.60 40.61,391.40 40.65,387.78 40.71,381.65 40.80,373.02 40.91,362.08 41.05,349.44 41.21,336.40 41.40,325.32 41.48,322.12 41.61,318.42 41.85,312.10 42.11,305.91 42.39,300.04 42.71,294.62 43.04,289.79 43.40,285.63 43.79,282.18 44.13,279.83 44.20,279.40 44.64,276.87 45.10,274.41 45.58,272.04 46.09,269.78 46.63,267.64 47.19,265.65 47.78,263.80 48.39,262.11 49.02,260.58 49.68,259.20 50.37,257.95 51.01,256.93 51.08,256.82 51.81,255.76 52.57,254.75 53.36,253.79 54.17,252.88 55.00,252.01 55.86,251.19 56.74,250.41 57.65,249.67 58.59,248.96 59.55,248.27 60.53,247.59 61.54,246.91 62.57,246.21 63.63,245.48 63.88,245.30 64.72,244.71 65.82,243.96 66.96,243.23 68.12,242.51 69.30,241.80 70.51,241.09 71.74,240.40 73.00,239.70 74.28,239.00 75.59,238.28 76.92,237.55 76.94,237.54 78.28,236.79 79.66,236.01 81.07,235.21 82.50,234.42 83.96,233.65 85.44,232.92 86.95,232.26 87.88,231.91 88.48,231.69 90.04,231.15 91.62,230.62 93.23,230.12 94.86,229.63 96.52,229.16 98.20,228.70 99.91,228.25 101.64,227.82 103.39,227.40 105.18,226.98 106.98,226.57 108.81,226.17 110.67,225.76 112.55,225.36 114.46,224.95 114.86,224.86 116.39,224.52 118.34,224.09 120.32,223.64 122.33,223.18 124.36,222.72 126.41,222.27 128.49,221.81 130.60,221.37 132.73,220.95 134.89,220.54 137.07,220.17 139.27,219.82 141.50,219.52 143.75,219.27 146.03,219.07 146.44,219.04 148.34,218.92 150.67,218.76 153.02,218.61 155.40,218.46 157.81,218.32 160.23,218.17 162.69,218.03 165.17,217.90 167.67,217.76 170.20,217.64 172.75,217.51 175.33,217.39 177.94,217.28 180.56,217.17 183.22,217.06 185.90,216.97 188.60,216.88 191.33,216.79 194.08,216.71 196.86,216.64 199.66,216.58 202.49,216.53 205.34,216.48 208.22,216.45 211.12,216.42 214.05,216.41 217.00,216.40" fill="none" stroke="#e3b452" stroke-width="1.0" stroke-linejoin="round"/>
<polyline points="40.60,392.60 40.61,389.64 40.65,380.75 40.71,366.12 40.80,347.05 40.91,327.37 40.95,322.12 41.05,311.89 41.21,296.44 41.40,281.64 41.61,268.97 41.83,260.45 41.85,260.17 42.11,254.07 42.39,248.73 42.71,244.30 43.04,240.85 43.25,239.31 43.40,238.29 43.79,236.05 44.20,234.05 44.64,232.29 45.10,230.77 45.58,229.46 45.89,228.73 46.09,228.29 46.63,227.19 47.19,226.15 47.78,225.21 48.39,224.40 49.02,223.75 49.42,223.45 49.68,223.28 50.37,222.88 51.08,222.49 51.81,222.13 52.57,221.79 53.36,221.47 54.17,221.19 55.00,220.93 55.86,220.71 56.74,220.52 57.65,220.36 58.24,220.28 58.59,220.23 59.55,220.12 60.53,220.01 61.54,219.91 62.57,219.81 63.63,219.72 64.72,219.63 65.82,219.55 66.96,219.48 68.12,219.41 69.30,219.34 70.51,219.28 71.74,219.22 73.00,219.17 74.28,219.11 75.59,219.06 75.88,219.04 76.92,219.00 78.28,218.95 79.66,218.89 81.07,218.84 82.50,218.78 83.96,218.73 85.44,218.68 86.95,218.63 88.48,218.58 90.04,218.53 91.62,218.48 93.23,218.43 94.86,218.39 96.52,218.34 98.20,218.29 99.91,218.25 101.64,218.20 103.39,218.16 105.18,218.12 106.98,218.08 108.81,218.03 110.67,217.99 112.55,217.95 114.46,217.91 116.39,217.87 118.34,217.83 120.32,217.80 122.33,217.76 124.36,217.72 126.41,217.68 128.49,217.64 128.80,217.63 130.60,217.60 132.73,217.56 134.89,217.52 137.07,217.48 139.27,217.44 141.50,217.40 143.75,217.36 146.03,217.32 148.34,217.28 150.67,217.24 153.02,217.19 155.40,217.15 157.81,217.11 160.23,217.07 162.69,217.03 165.17,216.99 167.67,216.96 170.20,216.92 172.75,216.88 175.33,216.84 177.94,216.80 180.56,216.77 183.22,216.73 185.90,216.70 188.60,216.66 191.33,216.63 194.08,216.60 196.86,216.57 199.66,216.54 202.49,216.51 205.34,216.49 208.22,216.46 211.12,216.44 214.05,216.42 217.00,216.40" fill="none" stroke="#b3e2f1" stroke-width="1.0" stroke-linejoin="round"/>
<polyline points="40.60,392.60 40.61,392.18 40.65,390.91 40.71,388.81 40.80,385.89 40.91,382.17 41.05,377.68 41.21,372.48 41.40,366.63 41.61,360.23 41.85,353.38 42.11,346.24 42.36,339.74 42.39,339.02 42.71,331.56 43.04,323.75 43.40,315.74 43.79,307.68 44.20,299.81 44.64,292.38 45.01,286.88 45.10,285.71 45.58,279.41 46.09,273.25 46.63,267.34 47.19,261.82 47.78,256.84 48.39,252.56 48.54,251.64 49.02,248.96 49.68,245.66 50.37,242.63 51.08,239.86 51.81,237.35 52.57,235.06 52.95,234.02 53.36,232.93 54.17,230.84 55.00,228.82 55.86,226.96 56.74,225.34 57.65,224.04 58.24,223.45 58.59,223.16 59.55,222.41 60.53,221.71 61.54,221.08 62.57,220.51 63.63,220.01 64.72,219.60 65.82,219.28 66.96,219.06 67.06,219.04 68.12,218.90 69.30,218.76 70.51,218.62 71.74,218.48 73.00,218.35 74.28,218.23 75.59,218.11 76.92,218.00 78.28,217.90 79.66,217.81 81.07,217.72 82.50,217.64 83.96,217.57 85.44,217.50 86.95,217.45 88.48,217.40 90.04,217.35 91.62,217.32 93.23,217.29 93.52,217.28 94.86,217.26 96.52,217.23 98.20,217.21 99.91,217.18 101.64,217.16 103.39,217.13 105.18,217.11 106.98,217.09 108.81,217.06 110.67,217.04 112.55,217.01 114.46,216.99 116.39,216.96 118.34,216.94 120.32,216.92 122.33,216.90 124.36,216.87 126.41,216.85 128.49,216.83 130.60,216.81 132.73,216.79 134.89,216.77 137.07,216.74 139.27,216.72 141.50,216.71 143.75,216.69 146.03,216.67 148.34,216.65 150.67,216.63 153.02,216.62 155.40,216.60 157.81,216.58 160.23,216.57 162.69,216.55 165.17,216.54 167.67,216.52 170.20,216.51 172.75,216.50 175.33,216.49 177.94,216.48 180.56,216.47 183.22,216.46 185.90,216.45 188.60,216.44 191.33,216.43 194.08,216.43 196.86,216.42 199.66,216.41 202.49,216.41 205.34,216.41 208.22,216.40 211.12,216.40 214.05,216.40 217.00,216.40" fill="none" stroke="#d6b6e3" stroke-width="1.0" stroke-linejoin="round"/>
<rect x="101.4" y="255.1" width="113.1" height="134.2" rx="1.5" fill="#fff" fill-opacity="0.8" stroke="#e6e6e6" stroke-width="0.7"/>
<line x1="103.20" y1="259.50" x2="116.50" y2="259.50" stroke="#7ec6da" stroke-width="1.0"/>
<text x="120.90" y="261.82" font-size="6.74" text-anchor="start" fill="#1a1a1a" stroke="#1a1a1a" stroke-width="0.15" textLength="72.65" lengthAdjust="spacingAndGlyphs">LR Class 0 (AUC = 0.86)</text>
<line x1="103.20" y1="268.39" x2="116.50" y2="268.39" stroke="#f0a352" stroke-width="1.0"/>
<text x="120.90" y="270.71" font-size="6.74" text-anchor="start" fill="#1a1a1a" stroke="#1a1a1a" stroke-width="0.15" textLength="72.65" lengthAdjust="spacingAndGlyphs">LR Class 1 (AUC = 0.95)</text>
<line x1="103.20" y1="277.28" x2="116.50" y2="277.28" stroke="#e3664f" stroke-width="1.0"/>
<text x="120.90" y="279.60" font-size="6.74" text-anchor="start" fill="#1a1a1a" stroke="#1a1a1a" stroke-width="0.15" textLength="72.65" lengthAdjust="spacingAndGlyphs">LR Class 2 (AUC = 0.96)</text>
<line x1="103.20" y1="286.17" x2="116.50" y2="286.17" stroke="#70d0b2" stroke-width="1.0"/>
<text x="120.90" y="288.49" font-size="6.74" text-anchor="start" fill="#1a1a1a" stroke="#1a1a1a" stroke-width="0.15" textLength="72.75" lengthAdjust="spacingAndGlyphs">RF Class 0 (AUC = 0.91)</text>
<line x1="103.20" y1="295.06" x2="116.50" y2="295.06" stroke="#f3d893" stroke-width="1.0"/>
<text x="120.90" y="297.38" font-size="6.74" text-anchor="start" fill="#1a1a1a" stroke="#1a1a1a" stroke-width="0.15" textLength="72.75" lengthAdjust="spacingAndGlyphs">RF Class 1 (AUC = 0.97)</text>
<line x1="103.20" y1="303.95" x2="116.50" y2="303.95" stroke="#9585d6" stroke-width="1.0"/>
<text x="120.90" y="306.27" font-size="6.74" text-anchor="start" fill="#1a1a1a" stroke="#1a1a1a" stroke-width="0.15" textLength="72.75" lengthAdjust="spacingAndGlyphs">RF Class 2 (AUC = 0.94)</text>
<line x1="103.20" y1="312.84" x2="116.50" y2="312.84" stroke="#f08fcb" stroke-width="1.0"/>
<text x="120.90" y="315.16" font-size="6.74" text-anchor="start" fill="#1a1a1a" stroke="#1a1a1a" stroke-width="0.15" textLength="74.12" lengthAdjust="spacingAndGlyphs">NN Class 0 (AUC = 0.89)</text>
<line x1="103.20" y1="321.73" x2="116.50" y2="321.73" stroke="#a3c2ea" stroke-width="1.0"/>
<text x="120.90" y="324.05" font-size="6.74" text-anchor="start" fill="#1a1a1a" stroke="#1a1a1a" stroke-width="0.15" textLength="74.12" lengthAdjust="spacingAndGlyphs">NN Class 1 (AUC = 0.97)</text>
<line x1="103.20" y1="330.62" x2="116.50" y2="330.62" stroke="#f3b4b2" stroke-width="1.0"/>
<text x="120.90" y="332.94" font-size="6.74" text-anchor="start" fill="#1a1a1a" stroke="#1a1a1a" stroke-width="0.15" textLength="74.12" lengthAdjust="spacingAndGlyphs">NN Class 2 (AUC = 0.97)</text>
<line x1="103.20" y1="339.51" x2="116.50" y2="339.51" stroke="#b5d066" stroke-width="1.0"/>
<text x="120.90" y="341.83" font-size="6.74" text-anchor="start" fill="#1a1a1a" stroke="#1a1a1a" stroke-width="0.15" textLength="78.24" lengthAdjust="spacingAndGlyphs">SVM Class 0 (AUC = 0.93)</text>
<line x1="103.20" y1="348.40" x2="116.50" y2="348.40" stroke="#e97b63" stroke-width="1.0"/>
<text x="120.90" y="350.72" font-size="6.74" text-anchor="start" fill="#1a1a1a" stroke="#1a1a1a" stroke-width="0.15" textLength="78.24" lengthAdjust="spacingAndGlyphs">SVM Class 1 (AUC = 0.98)</text>
<line x1="103.20" y1="357.29" x2="116.50" y2="357.29" stroke="#6683a8" stroke-width="1.0"/>
<text x="120.90" y="359.61" font-size="6.74" text-anchor="start" fill="#1a1a1a" stroke="#1a1a1a" stroke-width="0.15" textLength="78.24" lengthAdjust="spacingAndGlyphs">SVM Class 2 (AUC = 0.97)</text>
<line x1="103.20" y1="366.18" x2="116.50" y2="366.18" stroke="#e3b452" stroke-width="1.0"/>
<text x="120.90" y="368.50" font-size="6.74" text-anchor="start" fill="#1a1a1a" stroke="#1a1a1a" stroke-width="0.15" textLength="90.89" lengthAdjust="spacingAndGlyphs">XGBoost Class 0 (AUC = 0.93)</text>
<line x1="103.20" y1="375.07" x2="116.50" y2="375.07" stroke="#b3e2f1" stroke-width="1.0"/>
<text x="120.90" y="377.39" font-size="6.74" text-anchor="start" fill="#1a1a1a" stroke="#1a1a1a" stroke-width="0.15" textLength="90.89" lengthAdjust="spacingAndGlyphs">XGBoost Class 1 (AUC = 0.98)</text>
<line x1="103.20" y1="383.96" x2="116.50" y2="383.96" stroke="#d6b6e3" stroke-width="1.0"/>
<text x="120.90" y="386.28" font-size="6.74" text-anchor="start" fill="#1a1a1a" stroke="#1a1a1a" stroke-width="0.15" textLength="90.89" lengthAdjust="spacingAndGlyphs">XGBoost Class 2 (AUC = 0.97)</text>
<text x="224.95" y="13.70" font-size="18.7" fill="#111">C</text>
<circle cx="333.2" cy="92.2" r="17" fill="none" stroke="#d0d0d0" stroke-width="0.7"/>
<circle cx="333.2" cy="92.2" r="34" fill="none" stroke="#d0d0d0" stroke-width="0.7"/>
<circle cx="333.2" cy="92.2" r="51" fill="none" stroke="#d0d0d0" stroke-width="0.7"/>
<line x1="333.20" y1="92.20" x2="401.20" y2="92.20" stroke="#d0d0d0" stroke-width="0.7"/>
<line x1="333.20" y1="92.20" x2="333.20" y2="24.20" stroke="#d0d0d0" stroke-width="0.7"/>
<line x1="333.20" y1="92.20" x2="265.20" y2="92.20" stroke="#d0d0d0" stroke-width="0.7"/>
<line x1="333.20" y1="92.20" x2="333.20" y2="160.20" stroke="#d0d0d0" stroke-width="0.7"/>
<circle cx="333.2" cy="92.2" r="68.3" fill="none" stroke="#333" stroke-width="0.9"/>
<text x="340.50" y="91.14" font-size="7.39" text-anchor="middle" fill="#a0a0a0" stroke="#a0a0a0" stroke-width="0.15" textLength="14.50" lengthAdjust="spacingAndGlyphs">0.84</text>
<text x="357.00" y="84.34" font-size="7.39" text-anchor="middle" fill="#a0a0a0" stroke="#a0a0a0" stroke-width="0.15" textLength="14.50" lengthAdjust="spacingAndGlyphs">0.85</text>
<text x="372.80" y="77.74" font-size="7.39" text-anchor="middle" fill="#a0a0a0" stroke="#a0a0a0" stroke-width="0.15" textLength="14.50" lengthAdjust="spacingAndGlyphs">0.86</text>
<text x="388.40" y="71.14" font-size="7.39" text-anchor="middle" fill="#a0a0a0" stroke="#a0a0a0" stroke-width="0.15" textLength="14.50" lengthAdjust="spacingAndGlyphs">0.87</text>
<text x="404.90" y="64.64" font-size="7.39" text-anchor="middle" fill="#a0a0a0" stroke="#a0a0a0" stroke-width="0.15" textLength="14.50" lengthAdjust="spacingAndGlyphs">0.88</text>
<text x="333.20" y="10.78" font-size="8.96" text-anchor="middle" fill="#1a1a1a" stroke="#1a1a1a" stroke-width="0.15" textLength="35.70" lengthAdjust="spacingAndGlyphs">Precision</text>
<text x="249.80" y="95.28" font-size="8.96" text-anchor="middle" fill="#1a1a1a" stroke="#1a1a1a" stroke-width="0.15" textLength="23.87" lengthAdjust="spacingAndGlyphs">Recall</text>
<text x="426.00" y="95.28" font-size="8.96" text-anchor="middle" fill="#1a1a1a" stroke="#1a1a1a" stroke-width="0.15" textLength="36.52" lengthAdjust="spacingAndGlyphs">Accuracy</text>
<text x="333.20" y="178.48" font-size="8.96" text-anchor="middle" fill="#1a1a1a" stroke="#1a1a1a" stroke-width="0.15" textLength="33.70" lengthAdjust="spacingAndGlyphs">F1 score</text>
<polygon points="345.90,92.20 333.20,73.60 324.00,92.20 333.20,99.80" fill="none" stroke="#c7a0d8" stroke-width="1.3" stroke-linejoin="miter"/>
<polygon points="352.00,92.20 333.20,43.90 319.60,92.20 333.20,100.20" fill="none" stroke="#6fcfae" stroke-width="1.3" stroke-linejoin="miter"/>
<polygon points="380.50,92.20 333.20,48.20 290.10,92.20 333.20,134.40" fill="none" stroke="#72bfd9" stroke-width="1.3" stroke-linejoin="miter"/>
<polygon points="393.40,92.20 333.20,34.20 276.60,92.20 333.20,147.30" fill="none" stroke="#f1d27c" stroke-width="1.3" stroke-linejoin="miter"/>
<polygon points="383.80,92.20 333.20,32.80 286.60,92.20 333.20,136.30" fill="none" stroke="#eba7a6" stroke-width="1.3" stroke-linejoin="miter"/>
<line x1="257.70" y1="192.10" x2="273.20" y2="192.10" stroke="#c7a0d8" stroke-width="1.3"/>
<text x="278.50" y="194.99" font-size="8.4" text-anchor="start" fill="#1a1a1a" stroke="#1a1a1a" stroke-width="0.15" textLength="9.39" lengthAdjust="spacingAndGlyphs">LR</text>
<line x1="303.30" y1="192.10" x2="318.80" y2="192.10" stroke="#72bfd9" stroke-width="1.3"/>
<text x="324.10" y="194.99" font-size="8.4" text-anchor="start" fill="#1a1a1a" stroke="#1a1a1a" stroke-width="0.15" textLength="11.22" lengthAdjust="spacingAndGlyphs">NN</text>
<line x1="355.00" y1="192.10" x2="370.50" y2="192.10" stroke="#eba7a6" stroke-width="1.3"/>
<text x="376.50" y="194.99" font-size="8.4" text-anchor="start" fill="#1a1a1a" stroke="#1a1a1a" stroke-width="0.15" textLength="32.12" lengthAdjust="spacingAndGlyphs">XGBoost</text>
<line x1="257.70" y1="202.40" x2="273.20" y2="202.40" stroke="#6fcfae" stroke-width="1.3"/>
<text x="278.50" y="205.29" font-size="8.4" text-anchor="start" fill="#1a1a1a" stroke="#1a1a1a" stroke-width="0.15" textLength="9.53" lengthAdjust="spacingAndGlyphs">RF</text>
<line x1="303.30" y1="202.40" x2="318.80" y2="202.40" stroke="#f1d27c" stroke-width="1.3"/>
<text x="324.10" y="205.29" font-size="8.4" text-anchor="start" fill="#1a1a1a" stroke="#1a1a1a" stroke-width="0.15" textLength="16.36" lengthAdjust="spacingAndGlyphs">SVM</text>
<text x="226.87" y="218.50" font-size="18.7" fill="#111">D</text>
<rect x="295.50" y="223.60" width="41.47" height="41.43" fill="#3a74a1"/>
<text x="316.08" y="247.25" font-size="8.96" text-anchor="middle" fill="#1a1a1a" stroke="#1a1a1a" stroke-width="0.15" textLength="20.36" lengthAdjust="spacingAndGlyphs">1134</text>
<rect x="336.67" y="223.60" width="41.47" height="41.43" fill="#e3edf1"/>
<text x="357.25" y="247.25" font-size="8.96" text-anchor="middle" fill="#1a1a1a" stroke="#1a1a1a" stroke-width="0.15" textLength="10.18" lengthAdjust="spacingAndGlyphs">96</text>
<rect x="377.84" y="223.60" width="41.47" height="41.43" fill="#c1d9e3"/>
<text x="398.43" y="247.25" font-size="8.96" text-anchor="middle" fill="#1a1a1a" stroke="#1a1a1a" stroke-width="0.15" textLength="15.27" lengthAdjust="spacingAndGlyphs">220</text>
<rect x="295.50" y="264.73" width="41.47" height="41.43" fill="#e7eff3"/>
<text x="316.08" y="288.38" font-size="8.96" text-anchor="middle" fill="#1a1a1a" stroke="#1a1a1a" stroke-width="0.15" textLength="10.18" lengthAdjust="spacingAndGlyphs">84</text>
<rect x="336.67" y="264.73" width="41.47" height="41.43" fill="#2e6291"/>
<text x="357.25" y="288.38" font-size="8.96" text-anchor="middle" fill="#1a1a1a" stroke="#1a1a1a" stroke-width="0.15" textLength="20.36" lengthAdjust="spacingAndGlyphs">1446</text>
<rect x="377.84" y="264.73" width="41.47" height="41.43" fill="#fdfefe"/>
<text x="398.43" y="288.38" font-size="8.96" text-anchor="middle" fill="#1a1a1a" stroke="#1a1a1a" stroke-width="0.15" textLength="10.18" lengthAdjust="spacingAndGlyphs">19</text>
<rect x="295.50" y="305.86" width="41.47" height="41.43" fill="#d9e6ed"/>
<text x="316.08" y="329.51" font-size="8.96" text-anchor="middle" fill="#1a1a1a" stroke="#1a1a1a" stroke-width="0.15" textLength="15.27" lengthAdjust="spacingAndGlyphs">126</text>
<rect x="336.67" y="305.86" width="41.47" height="41.43" fill="#fdfefe"/>
<text x="357.25" y="329.51" font-size="8.96" text-anchor="middle" fill="#1a1a1a" stroke="#1a1a1a" stroke-width="0.15" textLength="10.18" lengthAdjust="spacingAndGlyphs">19</text>
<rect x="377.84" y="305.86" width="41.47" height="41.43" fill="#306594"/>
<text x="398.43" y="329.51" font-size="8.96" text-anchor="middle" fill="#1a1a1a" stroke="#1a1a1a" stroke-width="0.15" textLength="20.36" lengthAdjust="spacingAndGlyphs">1356</text>
<rect x="295.5" y="223.6" width="123.51" height="123.39" fill="none" stroke="#444" stroke-width="0.8"/>
<line x1="292.50" y1="244.16" x2="295.50" y2="244.16" stroke="#333" stroke-width="0.7"/>
<text x="291.00" y="246.80" font-size="7.67" text-anchor="end" fill="#1a1a1a" stroke="#1a1a1a" stroke-width="0.15" textLength="28.00" lengthAdjust="spacingAndGlyphs">Bivalent</text>
<line x1="292.50" y1="285.30" x2="295.50" y2="285.30" stroke="#333" stroke-width="0.7"/>
<text x="291.00" y="287.93" font-size="7.67" text-anchor="end" fill="#1a1a1a" stroke="#1a1a1a" stroke-width="0.15" textLength="50.69" lengthAdjust="spacingAndGlyphs">H3K4me3-only</text>
<line x1="292.50" y1="326.43" x2="295.50" y2="326.43" stroke="#333" stroke-width="0.7"/>
<text x="291.00" y="329.06" font-size="7.67" text-anchor="end" fill="#1a1a1a" stroke="#1a1a1a" stroke-width="0.15" textLength="50.69" lengthAdjust="spacingAndGlyphs">H3K9me3-only</text>
<text x="232.80" y="287.99" font-size="8.4" text-anchor="middle" fill="#1a1a1a" stroke="#1a1a1a" stroke-width="0.15" textLength="42.46" lengthAdjust="spacingAndGlyphs" transform="rotate(-90 232.80 285.10)">True Labels</text>
<line x1="316.08" y1="346.99" x2="316.08" y2="349.99" stroke="#333" stroke-width="0.7"/>
<text x="311.78" y="353.00" font-size="6.85" text-anchor="end" fill="#1a1a1a" textLength="28.00" lengthAdjust="spacingAndGlyphs" transform="rotate(-45 311.78 353.00) translate(0 4.97)">Bivalent</text>
<line x1="357.25" y1="346.99" x2="357.25" y2="349.99" stroke="#333" stroke-width="0.7"/>
<text x="352.95" y="353.00" font-size="6.85" text-anchor="end" fill="#1a1a1a" textLength="50.69" lengthAdjust="spacingAndGlyphs" transform="rotate(-45 352.95 353.00) translate(0 4.97)">H3K4me3-only</text>
<line x1="398.43" y1="346.99" x2="398.43" y2="349.99" stroke="#333" stroke-width="0.7"/>
<text x="394.12" y="353.00" font-size="6.85" text-anchor="end" fill="#1a1a1a" textLength="50.69" lengthAdjust="spacingAndGlyphs" transform="rotate(-45 394.12 353.00) translate(0 4.97)">H3K9me3-only</text>
<text x="357.30" y="402.19" font-size="8.4" text-anchor="middle" fill="#1a1a1a" stroke="#1a1a1a" stroke-width="0.15" textLength="61.73" lengthAdjust="spacingAndGlyphs">Predicted Labels</text>
<defs><linearGradient id="cbg" x1="0" y1="1" x2="0" y2="0"><stop offset="0" stop-color="#fdfefe"/><stop offset="0.046" stop-color="#e7eff3"/><stop offset="0.075" stop-color="#d9e6ed"/><stop offset="0.141" stop-color="#c1d9e3"/><stop offset="0.267" stop-color="#94bcd2"/><stop offset="0.407" stop-color="#6aa0c2"/><stop offset="0.547" stop-color="#4d8ab5"/><stop offset="0.781" stop-color="#3a74a1"/><stop offset="0.937" stop-color="#306594"/><stop offset="1" stop-color="#2e6291"/></linearGradient></defs>
<rect x="426.4" y="223.6" width="6.8" height="122.8" fill="url(#cbg)" stroke="#555" stroke-width="0.6"/>
<line x1="433.20" y1="331.40" x2="436.00" y2="331.40" stroke="#333" stroke-width="0.7"/>
<text x="437.70" y="334.10" font-size="7.84" text-anchor="start" fill="#1a1a1a" stroke="#1a1a1a" stroke-width="0.15" textLength="13.36" lengthAdjust="spacingAndGlyphs">200</text>
<line x1="433.20" y1="314.27" x2="436.00" y2="314.27" stroke="#333" stroke-width="0.7"/>
<text x="437.70" y="316.97" font-size="7.84" text-anchor="start" fill="#1a1a1a" stroke="#1a1a1a" stroke-width="0.15" textLength="13.36" lengthAdjust="spacingAndGlyphs">400</text>
<line x1="433.20" y1="297.14" x2="436.00" y2="297.14" stroke="#333" stroke-width="0.7"/>
<text x="437.70" y="299.84" font-size="7.84" text-anchor="start" fill="#1a1a1a" stroke="#1a1a1a" stroke-width="0.15" textLength="13.36" lengthAdjust="spacingAndGlyphs">600</text>
<line x1="433.20" y1="280.01" x2="436.00" y2="280.01" stroke="#333" stroke-width="0.7"/>
<text x="437.70" y="282.71" font-size="7.84" text-anchor="start" fill="#1a1a1a" stroke="#1a1a1a" stroke-width="0.15" textLength="13.36" lengthAdjust="spacingAndGlyphs">800</text>
<line x1="433.20" y1="262.88" x2="436.00" y2="262.88" stroke="#333" stroke-width="0.7"/>
<text x="437.70" y="265.58" font-size="7.84" text-anchor="start" fill="#1a1a1a" stroke="#1a1a1a" stroke-width="0.15" textLength="17.81" lengthAdjust="spacingAndGlyphs">1000</text>
<line x1="433.20" y1="245.75" x2="436.00" y2="245.75" stroke="#333" stroke-width="0.7"/>
<text x="437.70" y="248.45" font-size="7.84" text-anchor="start" fill="#1a1a1a" stroke="#1a1a1a" stroke-width="0.15" textLength="17.81" lengthAdjust="spacingAndGlyphs">1200</text>
<line x1="433.20" y1="228.62" x2="436.00" y2="228.62" stroke="#333" stroke-width="0.7"/>
<text x="437.70" y="231.32" font-size="7.84" text-anchor="start" fill="#1a1a1a" stroke="#1a1a1a" stroke-width="0.15" textLength="17.81" lengthAdjust="spacingAndGlyphs">1400</text>
<text x="445.87" y="13.60" font-size="18.7" fill="#111">E</text>
<line x1="487.60" y1="5.90" x2="487.60" y2="179.90" stroke="#6a6060" stroke-width="0.75"/>
<line x1="492.60" y1="185.30" x2="666.80" y2="185.30" stroke="#9c9696" stroke-width="0.75"/>
<line x1="485.40" y1="179.90" x2="487.60" y2="179.90" stroke="#6a6060" stroke-width="0.7"/>
<text x="483.00" y="182.67" font-size="8.06" text-anchor="end" fill="#1a1a1a" stroke="#1a1a1a" stroke-width="0.15" textLength="11.45" lengthAdjust="spacingAndGlyphs">0.0</text>
<line x1="666.80" y1="185.30" x2="666.80" y2="186.80" stroke="#9c9696" stroke-width="0.7"/>
<text x="666.80" y="194.17" font-size="8.06" text-anchor="middle" fill="#1a1a1a" stroke="#1a1a1a" stroke-width="0.15" textLength="11.45" lengthAdjust="spacingAndGlyphs">0.0</text>
<line x1="485.40" y1="162.50" x2="487.60" y2="162.50" stroke="#6a6060" stroke-width="0.7"/>
<text x="483.00" y="165.27" font-size="8.06" text-anchor="end" fill="#1a1a1a" stroke="#1a1a1a" stroke-width="0.15" textLength="11.45" lengthAdjust="spacingAndGlyphs">0.1</text>
<line x1="649.44" y1="185.30" x2="649.44" y2="186.80" stroke="#9c9696" stroke-width="0.7"/>
<text x="649.44" y="194.17" font-size="8.06" text-anchor="middle" fill="#1a1a1a" stroke="#1a1a1a" stroke-width="0.15" textLength="11.45" lengthAdjust="spacingAndGlyphs">0.1</text>
<line x1="485.40" y1="145.10" x2="487.60" y2="145.10" stroke="#6a6060" stroke-width="0.7"/>
<text x="483.00" y="147.87" font-size="8.06" text-anchor="end" fill="#1a1a1a" stroke="#1a1a1a" stroke-width="0.15" textLength="11.45" lengthAdjust="spacingAndGlyphs">0.2</text>
<line x1="632.08" y1="185.30" x2="632.08" y2="186.80" stroke="#9c9696" stroke-width="0.7"/>
<text x="632.08" y="194.17" font-size="8.06" text-anchor="middle" fill="#1a1a1a" stroke="#1a1a1a" stroke-width="0.15" textLength="11.45" lengthAdjust="spacingAndGlyphs">0.2</text>
<line x1="485.40" y1="127.70" x2="487.60" y2="127.70" stroke="#6a6060" stroke-width="0.7"/>
<text x="483.00" y="130.47" font-size="8.06" text-anchor="end" fill="#1a1a1a" stroke="#1a1a1a" stroke-width="0.15" textLength="11.45" lengthAdjust="spacingAndGlyphs">0.3</text>
<line x1="614.72" y1="185.30" x2="614.72" y2="186.80" stroke="#9c9696" stroke-width="0.7"/>
<text x="614.72" y="194.17" font-size="8.06" text-anchor="middle" fill="#1a1a1a" stroke="#1a1a1a" stroke-width="0.15" textLength="11.45" lengthAdjust="spacingAndGlyphs">0.3</text>
<line x1="485.40" y1="110.30" x2="487.60" y2="110.30" stroke="#6a6060" stroke-width="0.7"/>
<text x="483.00" y="113.07" font-size="8.06" text-anchor="end" fill="#1a1a1a" stroke="#1a1a1a" stroke-width="0.15" textLength="11.45" lengthAdjust="spacingAndGlyphs">0.4</text>
<line x1="597.36" y1="185.30" x2="597.36" y2="186.80" stroke="#9c9696" stroke-width="0.7"/>
<text x="597.36" y="194.17" font-size="8.06" text-anchor="middle" fill="#1a1a1a" stroke="#1a1a1a" stroke-width="0.15" textLength="11.45" lengthAdjust="spacingAndGlyphs">0.4</text>
<line x1="485.40" y1="92.90" x2="487.60" y2="92.90" stroke="#6a6060" stroke-width="0.7"/>
<text x="483.00" y="95.67" font-size="8.06" text-anchor="end" fill="#1a1a1a" stroke="#1a1a1a" stroke-width="0.15" textLength="11.45" lengthAdjust="spacingAndGlyphs">0.5</text>
<line x1="580.00" y1="185.30" x2="580.00" y2="186.80" stroke="#9c9696" stroke-width="0.7"/>
<text x="580.00" y="194.17" font-size="8.06" text-anchor="middle" fill="#1a1a1a" stroke="#1a1a1a" stroke-width="0.15" textLength="11.45" lengthAdjust="spacingAndGlyphs">0.5</text>
<line x1="485.40" y1="75.50" x2="487.60" y2="75.50" stroke="#6a6060" stroke-width="0.7"/>
<text x="483.00" y="78.27" font-size="8.06" text-anchor="end" fill="#1a1a1a" stroke="#1a1a1a" stroke-width="0.15" textLength="11.45" lengthAdjust="spacingAndGlyphs">0.6</text>
<line x1="562.64" y1="185.30" x2="562.64" y2="186.80" stroke="#9c9696" stroke-width="0.7"/>
<text x="562.64" y="194.17" font-size="8.06" text-anchor="middle" fill="#1a1a1a" stroke="#1a1a1a" stroke-width="0.15" textLength="11.45" lengthAdjust="spacingAndGlyphs">0.6</text>
<line x1="485.40" y1="58.10" x2="487.60" y2="58.10" stroke="#6a6060" stroke-width="0.7"/>
<text x="483.00" y="60.87" font-size="8.06" text-anchor="end" fill="#1a1a1a" stroke="#1a1a1a" stroke-width="0.15" textLength="11.45" lengthAdjust="spacingAndGlyphs">0.7</text>
<line x1="545.28" y1="185.30" x2="545.28" y2="186.80" stroke="#9c9696" stroke-width="0.7"/>
<text x="545.28" y="194.17" font-size="8.06" text-anchor="middle" fill="#1a1a1a" stroke="#1a1a1a" stroke-width="0.15" textLength="11.45" lengthAdjust="spacingAndGlyphs">0.7</text>
<line x1="485.40" y1="40.70" x2="487.60" y2="40.70" stroke="#6a6060" stroke-width="0.7"/>
<text x="483.00" y="43.47" font-size="8.06" text-anchor="end" fill="#1a1a1a" stroke="#1a1a1a" stroke-width="0.15" textLength="11.45" lengthAdjust="spacingAndGlyphs">0.8</text>
<line x1="527.92" y1="185.30" x2="527.92" y2="186.80" stroke="#9c9696" stroke-width="0.7"/>
<text x="527.92" y="194.17" font-size="8.06" text-anchor="middle" fill="#1a1a1a" stroke="#1a1a1a" stroke-width="0.15" textLength="11.45" lengthAdjust="spacingAndGlyphs">0.8</text>
<line x1="485.40" y1="23.30" x2="487.60" y2="23.30" stroke="#6a6060" stroke-width="0.7"/>
<text x="483.00" y="26.07" font-size="8.06" text-anchor="end" fill="#1a1a1a" stroke="#1a1a1a" stroke-width="0.15" textLength="11.45" lengthAdjust="spacingAndGlyphs">0.9</text>
<line x1="510.56" y1="185.30" x2="510.56" y2="186.80" stroke="#9c9696" stroke-width="0.7"/>
<text x="510.56" y="194.17" font-size="8.06" text-anchor="middle" fill="#1a1a1a" stroke="#1a1a1a" stroke-width="0.15" textLength="11.45" lengthAdjust="spacingAndGlyphs">0.9</text>
<line x1="485.40" y1="5.90" x2="487.60" y2="5.90" stroke="#6a6060" stroke-width="0.7"/>
<text x="483.00" y="8.67" font-size="8.06" text-anchor="end" fill="#1a1a1a" stroke="#1a1a1a" stroke-width="0.15" textLength="11.45" lengthAdjust="spacingAndGlyphs">1.0</text>
<line x1="493.20" y1="185.30" x2="493.20" y2="186.80" stroke="#9c9696" stroke-width="0.7"/>
<text x="493.20" y="194.17" font-size="8.06" text-anchor="middle" fill="#1a1a1a" stroke="#1a1a1a" stroke-width="0.15" textLength="11.45" lengthAdjust="spacingAndGlyphs">1.0</text>
<text x="465.90" y="94.54" font-size="8.85" text-anchor="middle" fill="#1a1a1a" stroke="#1a1a1a" stroke-width="0.15" textLength="40.30" lengthAdjust="spacingAndGlyphs" transform="rotate(-90 465.90 91.50)">Sensitivity</text>
<text x="579.80" y="203.74" font-size="8.85" text-anchor="middle" fill="#1a1a1a" stroke="#1a1a1a" stroke-width="0.15" textLength="40.72" lengthAdjust="spacingAndGlyphs">Specificity</text>
<line x1="493.20" y1="179.90" x2="666.80" y2="5.90" stroke="#2a2a2a" stroke-width="0.8" stroke-dasharray="1.9 1.1"/>
<polyline points="493.20,179.90 493.21,179.78 493.25,179.41 493.31,178.79 493.40,177.93 493.51,176.83 493.64,175.48 493.80,173.88 493.98,172.04 494.19,169.95 494.43,167.61 494.68,165.03 494.94,162.50 494.97,162.21 495.27,159.07 495.60,155.59 495.96,151.82 496.34,147.82 496.74,143.71 497.17,139.61 497.54,136.40 497.63,135.70 498.10,131.86 498.61,128.00 499.13,124.13 499.69,120.28 500.26,116.46 500.86,112.70 501.49,109.02 501.88,106.82 502.14,105.43 502.81,101.95 503.51,98.58 504.23,95.29 504.98,92.06 505.75,88.87 506.05,87.68 506.55,85.61 507.37,82.13 508.22,78.54 509.09,75.01 509.98,71.75 510.90,68.98 511.85,66.96 511.95,66.80 512.81,65.57 513.81,64.31 514.82,63.15 515.87,62.10 516.93,61.14 518.02,60.26 519.14,59.45 520.28,58.70 521.44,57.97 522.63,57.25 523.85,56.52 524.10,56.36 525.09,55.77 526.35,55.08 527.64,54.44 528.95,53.82 530.28,53.21 531.64,52.60 533.03,51.96 534.00,51.49 534.44,51.27 535.87,50.54 537.33,49.79 538.82,49.03 540.32,48.27 541.86,47.50 543.41,46.76 543.72,46.62 544.99,46.03 546.60,45.30 548.23,44.57 549.89,43.84 551.57,43.11 553.27,42.39 555.00,41.66 556.75,40.94 558.53,40.22 560.33,39.51 562.16,38.80 562.64,38.61 564.01,38.09 565.88,37.40 567.78,36.71 569.71,36.02 571.66,35.34 573.63,34.67 575.63,33.99 577.65,33.31 579.70,32.62 580.00,32.52 581.77,31.93 583.87,31.24 585.99,30.55 588.13,29.86 590.30,29.17 592.50,28.48 594.72,27.78 596.96,27.08 599.23,26.37 601.52,25.66 603.84,24.95 606.18,24.22 608.55,23.49 610.94,22.74 613.35,21.99 614.72,21.56 615.79,21.22 618.25,20.44 620.74,19.65 623.26,18.86 625.79,18.05 628.36,17.24 630.94,16.42 633.55,15.60 636.19,14.78 638.85,13.96 641.53,13.15 642.50,12.86 644.24,12.34 646.98,11.53 649.74,10.72 652.52,9.92 655.33,9.11 658.16,8.31 661.01,7.50 663.89,6.70 666.80,5.90" fill="none" stroke="#7cc6e0" stroke-width="1.0" stroke-linejoin="round"/>
<polyline points="493.20,179.90 493.21,179.60 493.25,178.71 493.31,177.22 493.40,175.16 493.51,172.53 493.64,169.34 493.80,165.64 493.98,161.46 494.19,156.85 494.43,151.88 494.68,146.63 494.97,141.23 495.27,135.82 495.60,130.56 495.80,127.70 495.96,125.63 496.34,120.75 496.74,115.89 497.17,111.11 497.63,106.46 498.10,102.00 498.61,97.78 499.13,93.87 499.28,92.90 499.69,90.27 500.26,86.87 500.86,83.69 501.49,80.70 502.14,77.90 502.75,75.50 502.81,75.26 503.51,72.77 504.23,70.42 504.98,68.19 505.75,66.06 506.55,63.98 506.74,63.49 507.37,61.91 508.22,59.84 509.09,57.78 509.98,55.74 510.90,53.75 511.85,51.81 512.81,49.94 513.81,48.18 514.55,46.96 514.82,46.54 515.87,45.02 516.93,43.60 518.02,42.25 519.14,40.94 520.28,39.63 521.44,38.30 522.36,37.22 522.63,36.90 523.85,35.40 525.09,33.86 526.35,32.32 527.64,30.87 528.95,29.56 529.14,29.39 530.28,28.41 531.64,27.34 533.03,26.34 534.44,25.41 535.87,24.54 535.91,24.52 537.33,23.69 538.82,22.87 540.32,22.10 541.86,21.40 543.41,20.79 543.72,20.69 544.99,20.28 546.60,19.81 548.23,19.36 549.89,18.94 551.57,18.54 553.27,18.16 555.00,17.80 556.75,17.45 558.53,17.11 560.33,16.77 562.16,16.43 562.64,16.34 564.01,16.09 565.88,15.76 567.78,15.44 569.71,15.12 571.66,14.82 573.63,14.52 575.63,14.22 577.65,13.91 579.70,13.60 580.00,13.56 581.77,13.28 583.87,12.95 585.99,12.60 588.13,12.25 590.30,11.89 592.50,11.53 594.72,11.17 596.96,10.81 599.23,10.45 601.52,10.10 603.84,9.77 606.18,9.45 608.55,9.15 610.94,8.88 613.35,8.63 614.72,8.51 615.79,8.42 618.25,8.22 620.74,8.03 623.26,7.85 625.79,7.68 628.36,7.51 630.94,7.36 633.55,7.21 636.19,7.07 638.85,6.94 641.53,6.81 642.50,6.77 644.24,6.69 646.98,6.57 649.74,6.46 652.52,6.35 655.33,6.24 658.16,6.15 661.01,6.06 663.89,5.97 666.80,5.90" fill="none" stroke="#efa055" stroke-width="1.0" stroke-linejoin="round"/>
<polyline points="493.20,179.90 493.21,179.78 493.25,179.43 493.31,178.83 493.40,178.01 493.51,176.95 493.64,175.67 493.80,174.16 493.98,172.43 494.19,170.49 494.43,168.35 494.68,166.02 494.97,163.50 495.27,160.80 495.60,157.95 495.96,154.95 496.34,151.83 496.74,148.60 497.17,145.28 497.63,141.90 498.10,138.49 498.41,136.40 498.61,135.07 499.13,131.60 499.69,128.09 500.26,124.55 500.86,121.01 501.49,117.49 502.14,114.02 502.81,110.61 503.51,107.30 503.62,106.82 504.23,104.10 504.98,100.99 505.75,97.95 506.55,94.97 507.37,92.04 508.22,89.13 509.09,86.21 509.69,84.20 509.98,83.24 510.90,80.21 511.85,77.15 512.81,74.09 513.81,71.05 514.82,68.09 515.87,65.23 516.93,62.52 517.33,61.58 518.02,59.98 519.14,57.49 520.28,55.08 521.44,52.80 522.63,50.71 523.85,48.87 524.10,48.53 525.09,47.27 526.35,45.75 527.64,44.31 528.95,42.97 530.28,41.73 531.64,40.60 533.03,39.58 534.00,38.96 534.44,38.69 535.87,37.89 537.33,37.16 538.82,36.49 540.32,35.86 541.86,35.28 543.41,34.72 543.72,34.61 544.99,34.17 546.60,33.64 548.23,33.13 549.89,32.64 551.57,32.16 553.27,31.70 555.00,31.24 556.75,30.80 558.53,30.36 560.33,29.93 562.16,29.50 562.64,29.39 564.01,29.08 565.88,28.69 567.78,28.32 569.71,27.95 571.66,27.60 573.63,27.23 575.63,26.85 577.65,26.43 579.70,25.98 580.00,25.91 581.77,25.48 583.87,24.92 585.99,24.32 588.13,23.68 590.30,23.00 592.50,22.29 594.72,21.56 596.96,20.81 599.23,20.05 601.52,19.29 603.84,18.54 606.18,17.81 608.55,17.10 610.94,16.43 613.35,15.80 614.72,15.47 615.79,15.22 618.25,14.66 620.74,14.09 623.26,13.53 625.79,12.97 628.36,12.42 630.94,11.88 633.55,11.34 636.19,10.80 638.85,10.28 641.53,9.77 644.24,9.27 646.98,8.78 649.74,8.31 652.52,7.86 655.33,7.42 658.16,7.01 661.01,6.62 663.89,6.24 666.80,5.90" fill="none" stroke="#e8735c" stroke-width="1.0" stroke-linejoin="round"/>
<polyline points="493.20,179.90 493.21,179.78 493.25,179.43 493.31,178.85 493.40,178.03 493.51,176.97 493.64,175.66 493.80,174.10 493.98,172.28 494.19,170.19 494.43,167.82 494.68,165.16 494.94,162.50 494.97,162.19 495.27,158.78 495.60,154.87 495.96,150.52 496.34,145.87 496.74,141.08 497.17,136.41 497.54,132.92 497.63,132.18 498.10,128.19 498.61,124.25 499.13,120.36 499.69,116.55 500.26,112.81 500.86,109.14 501.49,105.52 501.88,103.34 502.14,101.95 502.81,98.44 503.51,95.02 504.23,91.70 504.98,88.47 505.75,85.34 506.05,84.20 506.55,82.24 507.37,79.00 508.22,75.70 509.09,72.50 509.98,69.55 510.90,67.05 511.85,65.21 511.95,65.06 512.81,63.92 513.81,62.75 514.82,61.69 515.87,60.72 516.93,59.84 518.02,59.03 519.14,58.28 520.28,57.57 521.44,56.89 522.63,56.19 523.85,55.47 524.10,55.32 525.09,54.73 526.35,54.02 527.64,53.35 528.95,52.70 530.28,52.06 531.64,51.42 533.03,50.75 534.00,50.27 534.44,50.05 535.87,49.31 537.33,48.57 538.82,47.81 540.32,47.05 541.86,46.29 543.41,45.54 543.72,45.40 544.99,44.80 546.60,44.06 548.23,43.31 549.89,42.55 551.57,41.80 553.27,41.05 555.00,40.30 556.75,39.56 558.53,38.83 560.33,38.11 562.16,37.40 562.64,37.22 564.01,36.72 565.88,36.05 567.78,35.40 569.71,34.76 571.66,34.13 573.63,33.50 575.63,32.87 577.65,32.23 579.70,31.58 580.00,31.48 581.77,30.91 583.87,30.23 585.99,29.55 588.13,28.86 590.30,28.17 592.50,27.48 594.72,26.77 596.96,26.07 599.23,25.35 601.52,24.63 603.84,23.91 606.18,23.18 608.55,22.44 610.94,21.69 613.35,20.94 614.72,20.52 615.79,20.18 618.25,19.41 620.74,18.62 623.26,17.82 625.79,17.02 628.36,16.21 630.94,15.40 633.55,14.60 636.19,13.80 638.85,13.02 641.53,12.26 642.50,11.99 644.24,11.51 646.98,10.78 649.74,10.05 652.52,9.33 655.33,8.62 658.16,7.92 661.01,7.24 663.89,6.56 666.80,5.90" fill="none" stroke="#72d2b4" stroke-width="1.0" stroke-linejoin="round"/>
<polyline points="493.20,179.90 493.21,179.68 493.25,179.01 493.31,177.90 493.40,176.36 493.51,174.39 493.64,172.00 493.80,169.20 493.98,166.03 494.19,162.49 494.43,158.62 494.68,154.46 494.97,150.06 495.27,145.48 495.60,140.78 495.96,136.06 496.34,131.41 496.67,127.70 496.74,126.95 497.17,122.55 497.63,118.13 498.10,113.73 498.61,109.39 499.13,105.17 499.69,101.11 500.26,97.27 500.86,93.72 501.01,92.90 501.49,90.45 502.14,87.38 502.81,84.48 503.51,81.75 504.23,79.16 504.98,76.68 505.35,75.50 505.75,74.27 506.55,71.96 507.37,69.74 508.22,67.60 509.09,65.51 509.98,63.44 510.90,61.33 511.85,59.16 512.30,58.10 512.81,56.84 513.81,54.30 514.82,51.64 515.87,48.98 516.93,46.47 518.02,44.27 519.14,42.56 519.24,42.44 520.28,41.27 521.44,40.08 522.63,38.98 523.85,37.96 525.09,37.01 526.35,36.13 527.64,35.30 528.95,34.51 530.28,33.74 531.64,32.98 533.03,32.20 534.44,31.38 534.86,31.13 535.87,30.52 537.33,29.64 538.82,28.75 540.32,27.87 541.86,27.02 543.41,26.20 544.99,25.45 546.60,24.76 548.23,24.17 548.23,24.17 549.89,23.65 551.57,23.15 553.27,22.68 555.00,22.23 556.75,21.80 558.53,21.39 560.33,20.99 562.16,20.61 564.01,20.25 565.88,19.89 567.78,19.53 569.71,19.18 571.66,18.82 573.63,18.46 575.63,18.08 577.65,17.69 579.70,17.27 580.00,17.21 581.77,16.83 583.87,16.38 585.99,15.90 588.13,15.42 590.30,14.93 592.50,14.43 594.72,13.93 596.96,13.43 599.23,12.94 601.52,12.47 603.84,12.00 606.18,11.56 608.55,11.15 610.94,10.77 613.35,10.42 614.72,10.25 615.79,10.12 618.25,9.82 620.74,9.53 623.26,9.23 625.79,8.94 628.36,8.65 630.94,8.36 633.55,8.08 636.19,7.81 638.85,7.55 641.53,7.30 644.24,7.07 646.98,6.85 649.74,6.64 652.52,6.46 655.33,6.29 658.16,6.15 661.01,6.04 663.89,5.96 666.80,5.90" fill="none" stroke="#f2e09a" stroke-width="1.0" stroke-linejoin="round"/>
<polyline points="493.20,179.90 493.21,179.72 493.25,179.18 493.31,178.29 493.40,177.04 493.51,175.44 493.64,173.49 493.80,171.21 493.98,168.60 494.19,165.69 494.43,162.48 494.68,159.00 494.97,155.29 495.27,151.37 495.60,147.30 495.96,143.14 496.34,138.94 496.74,134.79 497.17,130.78 497.54,127.70 497.63,127.03 498.10,123.37 498.61,119.74 499.13,116.13 499.69,112.59 500.26,109.12 500.86,105.73 501.49,102.45 502.14,99.29 502.81,96.24 503.51,93.32 503.62,92.90 504.23,90.51 504.98,87.75 505.75,85.08 506.55,82.50 507.37,80.01 508.22,77.64 509.09,75.40 509.98,73.28 510.56,72.02 510.90,71.30 511.85,69.39 512.81,67.53 513.81,65.74 514.82,64.03 515.87,62.40 516.93,60.88 518.02,59.48 519.14,58.21 519.24,58.10 520.28,57.04 521.44,55.94 522.63,54.90 523.85,53.92 525.09,52.98 526.35,52.07 527.64,51.20 528.95,50.34 530.28,49.48 531.64,48.62 533.03,47.72 533.13,47.66 534.44,46.81 535.87,45.92 537.33,45.03 538.82,44.14 540.32,43.27 541.86,42.40 543.41,41.54 544.99,40.68 546.60,39.82 548.23,38.96 548.23,38.96 549.89,38.09 551.57,37.20 553.27,36.31 555.00,35.43 556.75,34.56 558.53,33.72 560.33,32.92 562.16,32.18 562.64,32.00 564.01,31.50 565.88,30.86 567.78,30.24 569.71,29.65 571.66,29.08 573.63,28.52 575.63,27.97 577.65,27.42 579.70,26.86 580.00,26.78 581.77,26.29 583.87,25.73 585.99,25.17 588.13,24.61 590.30,24.05 592.50,23.49 594.72,22.94 596.96,22.38 599.23,21.83 601.52,21.27 603.84,20.71 606.18,20.14 608.55,19.57 610.94,18.99 613.35,18.41 614.72,18.08 615.79,17.82 618.25,17.22 620.74,16.62 623.26,16.02 625.79,15.41 628.36,14.80 630.94,14.18 633.55,13.57 636.19,12.94 638.85,12.32 641.53,11.69 644.24,11.05 646.98,10.42 649.74,9.78 652.52,9.14 655.33,8.50 658.16,7.85 661.01,7.20 663.89,6.55 666.80,5.90" fill="none" stroke="#9c8ad8" stroke-width="1.0" stroke-linejoin="round"/>
<polyline points="493.20,179.90 493.21,179.71 493.25,179.15 493.31,178.21 493.40,176.90 493.51,175.23 493.64,173.20 493.80,170.83 493.98,168.13 494.19,165.14 494.43,161.87 494.68,158.39 494.97,154.74 495.27,150.99 495.60,147.22 495.80,145.10 495.96,143.54 496.34,139.80 496.74,136.01 497.17,132.18 497.63,128.33 498.10,124.50 498.61,120.69 499.13,116.93 499.69,113.22 500.14,110.30 500.26,109.57 500.86,105.94 501.49,102.32 502.14,98.74 502.81,95.24 503.51,91.85 504.23,88.61 504.98,85.58 505.35,84.20 505.75,82.76 506.55,79.97 507.37,77.22 508.22,74.55 509.09,72.04 509.98,69.74 510.90,67.72 511.85,66.08 511.95,65.93 512.81,64.74 513.81,63.50 514.82,62.35 515.87,61.28 516.93,60.29 518.02,59.36 519.14,58.48 520.28,57.64 521.44,56.82 522.63,56.00 523.85,55.15 524.10,54.97 525.09,54.28 526.35,53.46 527.64,52.66 528.95,51.88 530.28,51.12 531.64,50.36 533.03,49.59 534.00,49.05 534.44,48.80 535.87,48.00 537.33,47.20 538.82,46.40 540.32,45.60 541.86,44.79 543.41,43.99 543.72,43.83 544.99,43.17 546.60,42.34 548.23,41.49 549.89,40.62 551.57,39.76 553.27,38.89 555.00,38.03 556.75,37.18 558.53,36.36 560.33,35.56 562.16,34.80 562.64,34.61 564.01,34.08 565.88,33.40 567.78,32.74 569.71,32.10 571.66,31.48 573.63,30.86 575.63,30.24 577.65,29.61 579.70,28.96 580.00,28.87 581.77,28.30 583.87,27.62 585.99,26.93 588.13,26.23 590.30,25.52 592.50,24.81 594.72,24.09 596.96,23.38 599.23,22.66 601.52,21.94 603.84,21.22 606.18,20.52 608.55,19.82 610.94,19.13 613.35,18.45 614.72,18.08 615.79,17.79 618.25,17.13 620.74,16.48 623.26,15.82 625.79,15.16 628.36,14.51 630.94,13.85 633.55,13.20 636.19,12.56 638.85,11.91 641.53,11.28 644.24,10.64 646.98,10.02 649.74,9.40 652.52,8.79 655.33,8.19 658.16,7.60 661.01,7.02 663.89,6.45 666.80,5.90" fill="none" stroke="#ee9cd2" stroke-width="1.0" stroke-linejoin="round"/>
<polyline points="493.20,179.90 493.21,179.70 493.25,179.11 493.31,178.12 493.40,176.74 493.51,174.97 493.64,172.83 493.80,170.33 493.98,167.48 494.19,164.29 494.43,160.78 494.68,156.98 494.97,152.91 495.27,148.59 495.60,144.06 495.96,139.36 496.34,134.53 496.74,129.61 496.85,128.40 497.17,124.58 497.63,119.33 498.10,113.95 498.61,108.56 499.13,103.30 499.69,98.36 500.26,93.98 500.32,93.60 500.86,90.13 501.49,86.55 502.14,83.23 502.81,80.15 503.51,77.27 503.79,76.20 504.23,74.57 504.98,72.04 505.75,69.67 506.55,67.41 507.37,65.24 507.78,64.19 508.22,63.10 509.09,60.95 509.98,58.82 510.90,56.71 511.85,54.65 512.81,52.65 513.81,50.73 514.82,48.92 515.59,47.66 515.87,47.24 516.93,45.68 518.02,44.23 519.14,42.85 520.28,41.52 521.44,40.19 522.63,38.83 523.41,37.92 523.85,37.38 525.09,35.85 526.35,34.28 527.64,32.73 528.95,31.28 530.18,30.09 530.28,29.99 531.64,28.85 533.03,27.78 534.44,26.79 535.87,25.86 536.95,25.21 537.33,24.99 538.82,24.14 540.32,23.32 541.86,22.56 543.41,21.88 544.76,21.39 544.99,21.31 546.60,20.81 548.23,20.34 549.89,19.89 551.57,19.48 553.27,19.09 555.00,18.71 556.75,18.35 558.53,18.01 560.33,17.66 562.16,17.32 563.68,17.04 564.01,16.97 565.88,16.63 567.78,16.31 569.71,15.99 571.66,15.68 573.63,15.37 575.63,15.07 577.65,14.77 579.70,14.46 581.04,14.25 581.77,14.14 583.87,13.81 585.99,13.47 588.13,13.12 590.30,12.76 592.50,12.40 594.72,12.03 596.96,11.67 599.23,11.31 601.52,10.96 603.84,10.61 606.18,10.29 608.55,9.98 610.94,9.69 613.35,9.43 615.76,9.21 615.79,9.20 618.25,9.00 620.74,8.82 623.26,8.65 625.79,8.49 628.36,8.34 630.94,8.19 633.55,8.05 636.19,7.90 638.85,7.75 641.53,7.59 643.54,7.47 644.24,7.42 646.98,7.24 649.74,7.06 652.52,6.87 655.33,6.69 658.16,6.49 661.01,6.30 663.89,6.10 666.80,5.90" fill="none" stroke="#7fa8dc" stroke-width="1.0" stroke-linejoin="round"/>
<polyline points="493.20,179.90 493.21,179.72 493.25,179.17 493.31,178.26 493.40,176.99 493.51,175.36 493.64,173.39 493.80,171.09 493.98,168.45 494.19,165.51 494.43,162.28 494.68,158.79 494.97,155.07 495.27,151.16 495.60,147.11 495.96,142.97 496.34,138.80 496.74,134.70 497.17,130.74 497.54,127.70 497.63,127.04 498.10,123.46 498.61,119.94 499.13,116.48 499.69,113.11 500.26,109.84 500.86,106.68 501.49,103.63 502.14,100.70 502.75,98.12 502.81,97.86 503.51,95.15 504.23,92.55 504.98,90.07 505.75,87.67 506.55,85.33 507.37,83.01 508.22,80.67 508.82,78.98 509.09,78.24 509.98,75.73 510.90,73.17 511.85,70.61 512.81,68.10 513.81,65.68 514.82,63.43 515.77,61.58 515.87,61.40 516.93,59.55 518.02,57.78 519.14,56.11 520.28,54.51 521.44,52.98 522.63,51.51 523.85,50.09 524.45,49.40 525.09,48.68 526.35,47.30 527.64,45.95 528.95,44.65 530.28,43.40 531.64,42.23 533.03,41.15 533.65,40.70 534.44,40.16 535.87,39.21 537.33,38.29 538.82,37.41 540.32,36.57 541.86,35.76 543.41,34.99 544.99,34.25 546.60,33.54 548.23,32.87 548.23,32.87 549.89,32.22 551.57,31.59 553.27,30.98 555.00,30.39 556.75,29.81 558.53,29.24 560.33,28.69 562.16,28.15 564.01,27.62 565.88,27.09 567.78,26.57 569.71,26.05 571.66,25.53 573.63,25.01 575.63,24.48 577.65,23.94 579.70,23.38 580.00,23.30 581.77,22.81 583.87,22.24 585.99,21.66 588.13,21.08 590.30,20.50 592.50,19.91 594.72,19.33 596.96,18.75 599.23,18.17 601.52,17.59 603.84,17.03 606.18,16.47 608.55,15.93 610.94,15.40 613.35,14.88 614.72,14.60 615.79,14.38 618.25,13.89 620.74,13.39 623.26,12.90 625.79,12.41 628.36,11.92 630.94,11.44 633.55,10.96 636.19,10.48 638.85,10.02 641.53,9.56 644.24,9.10 646.98,8.66 649.74,8.23 652.52,7.81 655.33,7.40 658.16,7.00 661.01,6.62 663.89,6.25 666.80,5.90" fill="none" stroke="#f2bcbc" stroke-width="1.0" stroke-linejoin="round"/>
<polyline points="493.20,179.90 493.21,179.75 493.25,179.28 493.31,178.52 493.40,177.45 493.51,176.07 493.64,174.41 493.80,172.45 493.98,170.21 494.19,167.70 494.43,164.93 494.68,161.92 494.94,159.02 494.97,158.69 495.27,155.18 495.60,151.36 495.96,147.30 496.34,143.06 496.74,138.74 497.17,134.49 497.54,131.18 497.63,130.46 498.10,126.54 498.61,122.64 499.13,118.76 499.69,114.93 500.26,111.15 500.86,107.44 501.49,103.79 501.88,101.60 502.14,100.21 502.81,96.67 503.51,93.21 504.23,89.84 504.98,86.61 505.75,83.55 506.05,82.46 506.55,80.62 507.37,77.65 508.22,74.69 509.09,71.84 509.98,69.22 510.90,66.96 511.85,65.21 511.95,65.06 512.81,63.89 513.81,62.66 514.82,61.54 515.87,60.50 516.93,59.55 518.02,58.67 519.14,57.84 520.28,57.06 521.44,56.31 522.63,55.55 523.85,54.78 524.10,54.62 525.09,54.00 526.35,53.27 527.64,52.57 528.95,51.89 530.28,51.23 531.64,50.57 533.03,49.89 534.00,49.40 534.44,49.17 535.87,48.43 537.33,47.69 538.82,46.93 540.32,46.18 541.86,45.42 543.41,44.67 543.72,44.53 544.99,43.92 546.60,43.16 548.23,42.40 549.89,41.62 551.57,40.85 553.27,40.07 555.00,39.30 556.75,38.54 558.53,37.79 560.33,37.06 562.16,36.36 562.64,36.18 564.01,35.68 565.88,35.03 567.78,34.40 569.71,33.78 571.66,33.18 573.63,32.58 575.63,31.97 577.65,31.35 579.70,30.70 580.00,30.61 581.77,30.04 583.87,29.36 585.99,28.68 588.13,27.98 590.30,27.28 592.50,26.57 594.72,25.85 596.96,25.12 599.23,24.39 601.52,23.65 603.84,22.91 606.18,22.16 608.55,21.41 610.94,20.65 613.35,19.90 614.72,19.47 615.79,19.14 618.25,18.36 620.74,17.57 623.26,16.77 625.79,15.97 628.36,15.16 630.94,14.37 633.55,13.58 636.19,12.81 638.85,12.07 641.53,11.36 642.50,11.12 644.24,10.69 646.98,10.03 649.74,9.38 652.52,8.75 655.33,8.14 658.16,7.54 661.01,6.97 663.89,6.42 666.80,5.90" fill="none" stroke="#bcd46c" stroke-width="1.0" stroke-linejoin="round"/>
<polyline points="493.20,179.90 493.21,179.48 493.25,178.23 493.31,176.16 493.40,173.25 493.51,169.55 493.64,165.08 493.80,159.90 493.98,154.13 494.19,147.92 494.43,141.50 494.68,135.19 494.97,129.42 495.11,127.00 495.27,124.56 495.60,119.90 495.96,115.36 496.34,110.98 496.74,106.80 497.17,102.84 497.63,99.08 498.10,95.50 498.58,92.20 498.61,92.04 499.13,88.70 499.69,85.52 500.26,82.52 500.86,79.69 501.49,77.03 502.05,74.80 502.14,74.49 502.81,72.09 503.51,69.81 504.23,67.65 504.98,65.57 505.75,63.54 506.05,62.80 506.55,61.53 507.37,59.51 508.22,57.50 509.09,55.50 509.98,53.53 510.90,51.61 511.85,49.76 512.81,48.00 513.81,46.35 513.86,46.27 514.82,44.82 515.87,43.39 516.93,42.03 518.02,40.73 519.14,39.45 520.28,38.15 521.44,36.79 521.67,36.52 522.63,35.35 523.85,33.84 525.09,32.31 526.35,30.83 527.64,29.45 528.44,28.69 528.95,28.25 530.28,27.16 531.64,26.13 533.03,25.18 534.44,24.28 535.21,23.82 535.87,23.44 537.33,22.61 538.82,21.81 540.32,21.07 541.86,20.42 543.02,19.99 543.41,19.87 544.99,19.38 546.60,18.91 548.23,18.48 549.89,18.07 551.57,17.69 553.27,17.32 555.00,16.97 556.75,16.62 558.53,16.28 560.33,15.95 561.95,15.64 562.16,15.60 564.01,15.27 565.88,14.94 567.78,14.63 569.71,14.32 571.66,14.02 573.63,13.72 575.63,13.42 577.65,13.11 579.31,12.86 579.70,12.80 581.77,12.48 583.87,12.14 585.99,11.79 588.13,11.44 590.30,11.08 592.50,10.72 594.72,10.36 596.96,10.00 599.23,9.65 601.52,9.31 603.84,8.98 606.18,8.67 608.55,8.38 610.94,8.11 613.35,7.87 614.03,7.81 615.79,7.66 618.25,7.45 620.74,7.24 623.26,7.04 625.79,6.84 628.36,6.66 630.94,6.49 633.55,6.34 636.19,6.22 638.85,6.13 641.53,6.08 641.80,6.07 644.24,6.04 646.98,6.01 649.74,5.99 652.52,5.96 655.33,5.94 658.16,5.92 661.01,5.91 663.89,5.90 666.80,5.90" fill="none" stroke="#ef9f86" stroke-width="1.0" stroke-linejoin="round"/>
<polyline points="493.20,179.90 493.21,179.78 493.25,179.41 493.31,178.79 493.40,177.93 493.51,176.83 493.64,175.48 493.80,173.88 493.98,172.04 494.19,169.95 494.43,167.61 494.68,165.03 494.97,162.21 495.27,159.13 495.60,155.82 495.80,153.80 495.96,152.23 496.34,148.24 496.74,143.88 497.17,139.29 497.63,134.64 498.10,130.19 498.41,127.70 498.61,126.19 499.13,122.29 499.69,118.42 500.26,114.61 500.86,110.93 501.49,107.45 502.14,104.22 502.75,101.60 502.81,101.35 503.51,98.79 504.23,96.47 504.98,94.32 505.75,92.28 506.55,90.28 507.37,88.21 508.22,85.96 508.82,84.20 509.09,83.39 509.98,80.51 510.90,77.44 511.85,74.32 512.81,71.30 513.16,70.28 513.81,68.49 514.82,65.77 515.87,63.13 516.93,60.58 517.33,59.67 518.02,58.07 519.14,55.51 520.28,52.95 521.44,50.49 522.63,48.23 523.85,46.27 524.10,45.92 525.09,44.62 526.35,43.06 527.64,41.58 528.95,40.21 530.28,38.95 531.64,37.80 533.03,36.79 534.00,36.18 534.44,35.92 535.87,35.16 537.33,34.50 538.82,33.89 540.32,33.32 541.86,32.74 543.41,32.13 543.72,32.00 544.99,31.46 546.60,30.76 548.23,30.04 549.89,29.30 551.57,28.56 553.27,27.82 555.00,27.08 556.75,26.35 558.53,25.64 560.33,24.97 562.16,24.33 562.64,24.17 564.01,23.73 565.88,23.16 567.78,22.61 569.71,22.07 571.66,21.55 573.63,21.04 575.63,20.54 577.65,20.04 579.70,19.54 580.00,19.47 581.77,19.04 583.87,18.54 585.99,18.04 588.13,17.54 590.30,17.04 592.50,16.54 594.72,16.04 596.96,15.55 599.23,15.06 601.52,14.57 603.84,14.09 606.18,13.62 608.55,13.15 610.94,12.69 613.35,12.24 614.72,11.99 615.79,11.80 618.25,11.35 620.74,10.90 623.26,10.45 625.79,10.00 628.36,9.57 630.94,9.15 633.55,8.75 636.19,8.38 638.85,8.04 641.53,7.74 642.50,7.64 644.24,7.47 646.98,7.22 649.74,6.97 652.52,6.74 655.33,6.52 658.16,6.33 661.01,6.15 663.89,6.01 666.80,5.90" fill="none" stroke="#6b8db5" stroke-width="1.0" stroke-linejoin="round"/>
<rect x="543.4" y="61.3" width="120.6" height="114.8" rx="1.5" fill="#fff" fill-opacity="0.8" stroke="#e6e6e6" stroke-width="0.7"/>
<line x1="545.30" y1="66.40" x2="559.40" y2="66.40" stroke="#7cc6e0" stroke-width="1.0"/>
<text x="563.70" y="68.89" font-size="7.25" text-anchor="start" fill="#1a1a1a" stroke="#1a1a1a" stroke-width="0.15" textLength="84.09" lengthAdjust="spacingAndGlyphs">SVM Class 0 (AUC = 0.81)</text>
<line x1="545.30" y1="75.82" x2="559.40" y2="75.82" stroke="#efa055" stroke-width="1.0"/>
<text x="563.70" y="78.31" font-size="7.25" text-anchor="start" fill="#1a1a1a" stroke="#1a1a1a" stroke-width="0.15" textLength="84.09" lengthAdjust="spacingAndGlyphs">SVM Class 1 (AUC = 0.89)</text>
<line x1="545.30" y1="85.24" x2="559.40" y2="85.24" stroke="#e8735c" stroke-width="1.0"/>
<text x="563.70" y="87.73" font-size="7.25" text-anchor="start" fill="#1a1a1a" stroke="#1a1a1a" stroke-width="0.15" textLength="84.09" lengthAdjust="spacingAndGlyphs">SVM Class 2 (AUC = 0.84)</text>
<line x1="545.30" y1="94.66" x2="559.40" y2="94.66" stroke="#72d2b4" stroke-width="1.0"/>
<text x="563.70" y="97.15" font-size="7.25" text-anchor="start" fill="#1a1a1a" stroke="#1a1a1a" stroke-width="0.15" textLength="83.90" lengthAdjust="spacingAndGlyphs">KNN Class 0 (AUC = 0.81)</text>
<line x1="545.30" y1="104.08" x2="559.40" y2="104.08" stroke="#f2e09a" stroke-width="1.0"/>
<text x="563.70" y="106.57" font-size="7.25" text-anchor="start" fill="#1a1a1a" stroke="#1a1a1a" stroke-width="0.15" textLength="83.90" lengthAdjust="spacingAndGlyphs">KNN Class 1 (AUC = 0.87)</text>
<line x1="545.30" y1="113.50" x2="559.40" y2="113.50" stroke="#9c8ad8" stroke-width="1.0"/>
<text x="563.70" y="115.99" font-size="7.25" text-anchor="start" fill="#1a1a1a" stroke="#1a1a1a" stroke-width="0.15" textLength="83.90" lengthAdjust="spacingAndGlyphs">KNN Class 2 (AUC = 0.83)</text>
<line x1="545.30" y1="122.92" x2="559.40" y2="122.92" stroke="#ee9cd2" stroke-width="1.0"/>
<text x="563.70" y="125.41" font-size="7.25" text-anchor="start" fill="#1a1a1a" stroke="#1a1a1a" stroke-width="0.15" textLength="78.19" lengthAdjust="spacingAndGlyphs">RF Class 0 (AUC = 0.83)</text>
<line x1="545.30" y1="132.34" x2="559.40" y2="132.34" stroke="#7fa8dc" stroke-width="1.0"/>
<text x="563.70" y="134.83" font-size="7.25" text-anchor="start" fill="#1a1a1a" stroke="#1a1a1a" stroke-width="0.15" textLength="78.19" lengthAdjust="spacingAndGlyphs">RF Class 1 (AUC = 0.89)</text>
<line x1="545.30" y1="141.76" x2="559.40" y2="141.76" stroke="#f2bcbc" stroke-width="1.0"/>
<text x="563.70" y="144.25" font-size="7.25" text-anchor="start" fill="#1a1a1a" stroke="#1a1a1a" stroke-width="0.15" textLength="78.19" lengthAdjust="spacingAndGlyphs">RF Class 2 (AUC = 0.85)</text>
<line x1="545.30" y1="151.18" x2="559.40" y2="151.18" stroke="#bcd46c" stroke-width="1.0"/>
<text x="563.70" y="153.67" font-size="7.25" text-anchor="start" fill="#1a1a1a" stroke="#1a1a1a" stroke-width="0.15" textLength="97.69" lengthAdjust="spacingAndGlyphs">XGBoost Class 0 (AUC = 0.82)</text>
<line x1="545.30" y1="160.60" x2="559.40" y2="160.60" stroke="#ef9f86" stroke-width="1.0"/>
<text x="563.70" y="163.09" font-size="7.25" text-anchor="start" fill="#1a1a1a" stroke="#1a1a1a" stroke-width="0.15" textLength="97.69" lengthAdjust="spacingAndGlyphs">XGBoost Class 1 (AUC = 0.89)</text>
<line x1="545.30" y1="170.02" x2="559.40" y2="170.02" stroke="#6b8db5" stroke-width="1.0"/>
<text x="563.70" y="172.51" font-size="7.25" text-anchor="start" fill="#1a1a1a" stroke="#1a1a1a" stroke-width="0.15" textLength="97.69" lengthAdjust="spacingAndGlyphs">XGBoost Class 2 (AUC = 0.85)</text>
<text x="461.77" y="218.50" font-size="18.7" fill="#111">F</text>
<line x1="501.60" y1="244.80" x2="501.60" y2="365.00" stroke="#333" stroke-width="0.9"/>
<line x1="501.60" y1="365.00" x2="681.50" y2="365.00" stroke="#333" stroke-width="0.9"/>
<text x="592.50" y="240.80" font-size="8.14" text-anchor="middle" fill="#1a1a1a" stroke="#1a1a1a" stroke-width="0.15" textLength="94.22" lengthAdjust="spacingAndGlyphs">Feature Importance by RF</text>
<rect x="501.60" y="250.50" width="77.05" height="22.90" fill="#8fb1c6"/>
<rect x="578.65" y="250.50" width="74.53" height="22.90" fill="#9ab897"/>
<rect x="653.19" y="250.50" width="22.14" height="22.90" fill="#e0d092"/>
<line x1="498.60" y1="261.95" x2="501.60" y2="261.95" stroke="#333" stroke-width="0.7"/>
<text x="496.50" y="264.68" font-size="7.95" text-anchor="end" fill="#1a1a1a" stroke="#1a1a1a" stroke-width="0.15" textLength="28.63" lengthAdjust="spacingAndGlyphs">TCTGAA</text>
<rect x="501.60" y="279.35" width="17.42" height="22.90" fill="#8fb1c6"/>
<rect x="519.02" y="279.35" width="49.83" height="22.90" fill="#9ab897"/>
<rect x="568.85" y="279.35" width="56.04" height="22.90" fill="#e0d092"/>
<line x1="498.60" y1="290.80" x2="501.60" y2="290.80" stroke="#333" stroke-width="0.7"/>
<text x="496.50" y="293.53" font-size="7.95" text-anchor="end" fill="#1a1a1a" stroke="#1a1a1a" stroke-width="0.15" textLength="28.46" lengthAdjust="spacingAndGlyphs">AGATGT</text>
<rect x="501.60" y="308.20" width="17.00" height="22.90" fill="#8fb1c6"/>
<rect x="518.60" y="308.20" width="44.41" height="22.90" fill="#9ab897"/>
<rect x="563.01" y="308.20" width="58.84" height="22.90" fill="#e0d092"/>
<line x1="498.60" y1="319.65" x2="501.60" y2="319.65" stroke="#333" stroke-width="0.7"/>
<text x="496.50" y="322.38" font-size="7.95" text-anchor="end" fill="#1a1a1a" stroke="#1a1a1a" stroke-width="0.15" textLength="27.41" lengthAdjust="spacingAndGlyphs">GTTTCA</text>
<rect x="501.60" y="337.05" width="9.20" height="22.90" fill="#8fb1c6"/>
<rect x="510.80" y="337.05" width="42.17" height="22.90" fill="#9ab897"/>
<rect x="552.97" y="337.05" width="41.10" height="22.90" fill="#e0d092"/>
<line x1="498.60" y1="348.50" x2="501.60" y2="348.50" stroke="#333" stroke-width="0.7"/>
<text x="496.50" y="351.23" font-size="7.95" text-anchor="end" fill="#1a1a1a" stroke="#1a1a1a" stroke-width="0.15" textLength="27.89" lengthAdjust="spacingAndGlyphs">GTAGTC</text>
<line x1="501.60" y1="365.00" x2="501.60" y2="368.00" stroke="#333" stroke-width="0.7"/>
<text x="501.60" y="376.76" font-size="7.73" text-anchor="middle" fill="#1a1a1a" stroke="#1a1a1a" stroke-width="0.15" textLength="15.36" lengthAdjust="spacingAndGlyphs">0.00</text>
<line x1="524.95" y1="365.00" x2="524.95" y2="368.00" stroke="#333" stroke-width="0.7"/>
<text x="524.95" y="376.76" font-size="7.73" text-anchor="middle" fill="#1a1a1a" stroke="#1a1a1a" stroke-width="0.15" textLength="15.36" lengthAdjust="spacingAndGlyphs">0.05</text>
<line x1="548.30" y1="365.00" x2="548.30" y2="368.00" stroke="#333" stroke-width="0.7"/>
<text x="548.30" y="376.76" font-size="7.73" text-anchor="middle" fill="#1a1a1a" stroke="#1a1a1a" stroke-width="0.15" textLength="15.36" lengthAdjust="spacingAndGlyphs">0.10</text>
<line x1="571.65" y1="365.00" x2="571.65" y2="368.00" stroke="#333" stroke-width="0.7"/>
<text x="571.65" y="376.76" font-size="7.73" text-anchor="middle" fill="#1a1a1a" stroke="#1a1a1a" stroke-width="0.15" textLength="15.36" lengthAdjust="spacingAndGlyphs">0.15</text>
<line x1="595.00" y1="365.00" x2="595.00" y2="368.00" stroke="#333" stroke-width="0.7"/>
<text x="595.00" y="376.76" font-size="7.73" text-anchor="middle" fill="#1a1a1a" stroke="#1a1a1a" stroke-width="0.15" textLength="15.36" lengthAdjust="spacingAndGlyphs">0.20</text>
<line x1="618.35" y1="365.00" x2="618.35" y2="368.00" stroke="#333" stroke-width="0.7"/>
<text x="618.35" y="376.76" font-size="7.73" text-anchor="middle" fill="#1a1a1a" stroke="#1a1a1a" stroke-width="0.15" textLength="15.36" lengthAdjust="spacingAndGlyphs">0.25</text>
<line x1="641.70" y1="365.00" x2="641.70" y2="368.00" stroke="#333" stroke-width="0.7"/>
<text x="641.70" y="376.76" font-size="7.73" text-anchor="middle" fill="#1a1a1a" stroke="#1a1a1a" stroke-width="0.15" textLength="15.36" lengthAdjust="spacingAndGlyphs">0.30</text>
<line x1="665.05" y1="365.00" x2="665.05" y2="368.00" stroke="#333" stroke-width="0.7"/>
<text x="665.05" y="376.76" font-size="7.73" text-anchor="middle" fill="#1a1a1a" stroke="#1a1a1a" stroke-width="0.15" textLength="15.36" lengthAdjust="spacingAndGlyphs">0.35</text>
<text x="593.00" y="386.70" font-size="8.15" text-anchor="middle" fill="#1a1a1a" stroke="#1a1a1a" stroke-width="0.15" textLength="72.90" lengthAdjust="spacingAndGlyphs">mean(|SHAP value|)</text>
<text x="644.60" y="329.88" font-size="7.22" text-anchor="middle" fill="#1a1a1a" stroke="#1a1a1a" stroke-width="0.15" textLength="16.97" lengthAdjust="spacingAndGlyphs">Class</text>
<rect x="611.20" y="334.80" width="13.40" height="4.90" fill="#8fb1c6"/>
<text x="629.80" y="339.80" font-size="7.28" text-anchor="start" fill="#1a1a1a" stroke="#1a1a1a" stroke-width="0.15" textLength="26.57" lengthAdjust="spacingAndGlyphs">Bivalent</text>
<rect x="611.20" y="344.10" width="13.40" height="4.90" fill="#9ab897"/>
<text x="629.80" y="349.10" font-size="7.28" text-anchor="start" fill="#1a1a1a" stroke="#1a1a1a" stroke-width="0.15" textLength="44.10" lengthAdjust="spacingAndGlyphs">H3K4m3-only</text>
<rect x="611.20" y="353.60" width="13.40" height="4.90" fill="#e0d092"/>
<text x="629.80" y="358.60" font-size="7.28" text-anchor="start" fill="#1a1a1a" stroke="#1a1a1a" stroke-width="0.15" textLength="48.10" lengthAdjust="spacingAndGlyphs">H3K9me3-only</text>
<text x="0.56" y="430.30" font-size="18.7" fill="#111">G</text>
<line x1="49.40" y1="435.10" x2="49.40" y2="555.60" stroke="#333" stroke-width="0.9"/>
<line x1="49.40" y1="555.60" x2="219.50" y2="555.60" stroke="#333" stroke-width="0.9"/>
<line x1="46.20" y1="555.60" x2="49.40" y2="555.60" stroke="#333" stroke-width="0.8"/>
<text x="44.60" y="558.55" font-size="8.57" text-anchor="end" fill="#1a1a1a" stroke="#1a1a1a" stroke-width="0.15" textLength="17.03" lengthAdjust="spacingAndGlyphs">0.90</text>
<line x1="46.20" y1="531.50" x2="49.40" y2="531.50" stroke="#333" stroke-width="0.8"/>
<text x="44.60" y="534.45" font-size="8.57" text-anchor="end" fill="#1a1a1a" stroke="#1a1a1a" stroke-width="0.15" textLength="17.03" lengthAdjust="spacingAndGlyphs">0.92</text>
<line x1="46.20" y1="507.40" x2="49.40" y2="507.40" stroke="#333" stroke-width="0.8"/>
<text x="44.60" y="510.35" font-size="8.57" text-anchor="end" fill="#1a1a1a" stroke="#1a1a1a" stroke-width="0.15" textLength="17.03" lengthAdjust="spacingAndGlyphs">0.94</text>
<line x1="46.20" y1="483.30" x2="49.40" y2="483.30" stroke="#333" stroke-width="0.8"/>
<text x="44.60" y="486.25" font-size="8.57" text-anchor="end" fill="#1a1a1a" stroke="#1a1a1a" stroke-width="0.15" textLength="17.03" lengthAdjust="spacingAndGlyphs">0.96</text>
<line x1="46.20" y1="459.20" x2="49.40" y2="459.20" stroke="#333" stroke-width="0.8"/>
<text x="44.60" y="462.15" font-size="8.57" text-anchor="end" fill="#1a1a1a" stroke="#1a1a1a" stroke-width="0.15" textLength="17.03" lengthAdjust="spacingAndGlyphs">0.98</text>
<line x1="46.20" y1="435.10" x2="49.40" y2="435.10" stroke="#333" stroke-width="0.8"/>
<text x="44.60" y="438.05" font-size="8.57" text-anchor="end" fill="#1a1a1a" stroke="#1a1a1a" stroke-width="0.15" textLength="17.03" lengthAdjust="spacingAndGlyphs">1.00</text>
<line x1="57.00" y1="555.60" x2="57.00" y2="558.80" stroke="#333" stroke-width="0.8"/>
<text x="57.00" y="567.15" font-size="8.57" text-anchor="middle" fill="#1a1a1a" stroke="#1a1a1a" stroke-width="0.15" textLength="14.60" lengthAdjust="spacingAndGlyphs">200</text>
<line x1="95.73" y1="555.60" x2="95.73" y2="558.80" stroke="#333" stroke-width="0.8"/>
<text x="95.73" y="567.15" font-size="8.57" text-anchor="middle" fill="#1a1a1a" stroke="#1a1a1a" stroke-width="0.15" textLength="14.60" lengthAdjust="spacingAndGlyphs">400</text>
<line x1="134.46" y1="555.60" x2="134.46" y2="558.80" stroke="#333" stroke-width="0.8"/>
<text x="134.46" y="567.15" font-size="8.57" text-anchor="middle" fill="#1a1a1a" stroke="#1a1a1a" stroke-width="0.15" textLength="14.60" lengthAdjust="spacingAndGlyphs">600</text>
<line x1="173.19" y1="555.60" x2="173.19" y2="558.80" stroke="#333" stroke-width="0.8"/>
<text x="173.19" y="567.15" font-size="8.57" text-anchor="middle" fill="#1a1a1a" stroke="#1a1a1a" stroke-width="0.15" textLength="14.60" lengthAdjust="spacingAndGlyphs">800</text>
<line x1="211.92" y1="555.60" x2="211.92" y2="558.80" stroke="#333" stroke-width="0.8"/>
<text x="211.92" y="567.15" font-size="8.57" text-anchor="middle" fill="#1a1a1a" stroke="#1a1a1a" stroke-width="0.15" textLength="19.47" lengthAdjust="spacingAndGlyphs">1000</text>
<text x="134.70" y="577.97" font-size="8.62" text-anchor="middle" fill="#1a1a1a" stroke="#1a1a1a" stroke-width="0.15" textLength="85.22" lengthAdjust="spacingAndGlyphs">Sequence Length (bp)</text>
<text x="19.80" y="498.31" font-size="8.74" text-anchor="middle" fill="#1a1a1a" stroke="#1a1a1a" stroke-width="0.15" textLength="28.05" lengthAdjust="spacingAndGlyphs" transform="rotate(-90 19.80 495.30)">AUROC</text>
<polyline points="57.00,539.33 95.73,522.22 134.46,511.62 173.19,510.17 211.92,509.45" fill="none" stroke="#e8a25a" stroke-width="1.4" stroke-linejoin="round"/>
<circle cx="57.00" cy="539.33" r="2.6" fill="#e8a25a"/>
<circle cx="95.73" cy="522.22" r="2.6" fill="#e8a25a"/>
<circle cx="134.46" cy="511.62" r="2.6" fill="#e8a25a"/>
<circle cx="173.19" cy="510.17" r="2.6" fill="#e8a25a"/>
<circle cx="211.92" cy="509.45" r="2.6" fill="#e8a25a"/>
<polyline points="57.00,549.58 95.73,545.36 134.46,524.51 173.19,525.48 211.92,534.87" fill="none" stroke="#eeaaaa" stroke-width="1.4" stroke-linejoin="round"/>
<rect x="54.25" y="546.93" width="5.50" height="5.30" fill="#eeaaaa"/>
<rect x="92.98" y="542.71" width="5.50" height="5.30" fill="#eeaaaa"/>
<rect x="131.71" y="521.86" width="5.50" height="5.30" fill="#eeaaaa"/>
<rect x="170.44" y="522.83" width="5.50" height="5.30" fill="#eeaaaa"/>
<rect x="209.17" y="532.22" width="5.50" height="5.30" fill="#eeaaaa"/>
<polyline points="57.00,545.36 95.73,518.97 134.46,505.23 173.19,513.55 211.92,511.01" fill="none" stroke="#86aed8" stroke-width="1.4" stroke-linejoin="round"/>
<polygon points="57.00,542.06 59.87,547.17 54.13,547.17" fill="#86aed8"/>
<polygon points="95.73,515.67 98.60,520.78 92.86,520.78" fill="#86aed8"/>
<polygon points="134.46,501.93 137.33,507.05 131.59,507.05" fill="#86aed8"/>
<polygon points="173.19,510.25 176.06,515.36 170.32,515.36" fill="#86aed8"/>
<polygon points="211.92,507.71 214.79,512.83 209.05,512.83" fill="#86aed8"/>
<polyline points="57.00,535.12 95.73,539.94 134.46,511.86 173.19,524.99 211.92,514.87" fill="none" stroke="#c59fd8" stroke-width="1.4" stroke-linejoin="round"/>
<polygon points="57.00,531.51 60.31,535.12 57.00,538.72 53.69,535.12" fill="#c59fd8"/>
<polygon points="95.73,536.34 99.04,539.94 95.73,543.54 92.42,539.94" fill="#c59fd8"/>
<polygon points="134.46,508.26 137.77,511.86 134.46,515.46 131.15,511.86" fill="#c59fd8"/>
<polygon points="173.19,521.39 176.50,524.99 173.19,528.59 169.88,524.99" fill="#c59fd8"/>
<polygon points="211.92,511.27 215.23,514.87 211.92,518.47 208.61,514.87" fill="#c59fd8"/>
<line x1="52.50" y1="593.00" x2="69.00" y2="593.00" stroke="#e8a25a" stroke-width="1.2"/>
<circle cx="60.75" cy="593.00" r="2.6" fill="#e8a25a"/>
<text x="74.10" y="595.95" font-size="8.57" text-anchor="start" fill="#1a1a1a" stroke="#1a1a1a" stroke-width="0.15" textLength="21.45" lengthAdjust="spacingAndGlyphs">DanQ</text>
<line x1="52.50" y1="605.00" x2="69.00" y2="605.00" stroke="#eeaaaa" stroke-width="1.2"/>
<rect x="58.00" y="602.35" width="5.50" height="5.30" fill="#eeaaaa"/>
<text x="74.10" y="607.95" font-size="8.57" text-anchor="start" fill="#1a1a1a" stroke="#1a1a1a" stroke-width="0.15" textLength="35.08" lengthAdjust="spacingAndGlyphs">DeepSEA</text>
<line x1="124.60" y1="593.00" x2="141.10" y2="593.00" stroke="#86aed8" stroke-width="1.2"/>
<polygon points="132.85,589.70 135.72,594.82 129.98,594.82" fill="#86aed8"/>
<text x="146.80" y="595.95" font-size="8.57" text-anchor="start" fill="#1a1a1a" stroke="#1a1a1a" stroke-width="0.15" textLength="58.50" lengthAdjust="spacingAndGlyphs">CNN+Attention</text>
<line x1="124.60" y1="605.00" x2="141.10" y2="605.00" stroke="#c59fd8" stroke-width="1.2"/>
<polygon points="132.85,601.40 136.16,605.00 132.85,608.60 129.54,605.00" fill="#c59fd8"/>
<text x="146.80" y="607.95" font-size="8.57" text-anchor="start" fill="#1a1a1a" stroke="#1a1a1a" stroke-width="0.15" textLength="69.10" lengthAdjust="spacingAndGlyphs">CNN+Transformer</text>
<text x="233.87" y="430.20" font-size="18.7" fill="#111">H</text>
<line x1="368.40" y1="436.00" x2="368.40" y2="593.10" stroke="#c4c4c4" stroke-width="0.9" stroke-dasharray="3.6 1.6"/>
<line x1="275.50" y1="515.30" x2="433.00" y2="515.30" stroke="#c4c4c4" stroke-width="0.9" stroke-dasharray="3.6 1.6"/>
<line x1="275.50" y1="435.70" x2="275.50" y2="593.10" stroke="#555" stroke-width="0.9"/>
<line x1="275.50" y1="593.10" x2="433.60" y2="593.10" stroke="#555" stroke-width="0.9"/>
<line x1="272.30" y1="585.70" x2="275.50" y2="585.70" stroke="#333" stroke-width="0.8"/>
<text x="270.20" y="588.69" font-size="8.68" text-anchor="end" fill="#1a1a1a" stroke="#1a1a1a" stroke-width="0.15" textLength="22.19" lengthAdjust="spacingAndGlyphs">0.885</text>
<line x1="272.30" y1="567.35" x2="275.50" y2="567.35" stroke="#333" stroke-width="0.8"/>
<text x="270.20" y="570.34" font-size="8.68" text-anchor="end" fill="#1a1a1a" stroke="#1a1a1a" stroke-width="0.15" textLength="22.19" lengthAdjust="spacingAndGlyphs">0.890</text>
<line x1="272.30" y1="549.00" x2="275.50" y2="549.00" stroke="#333" stroke-width="0.8"/>
<text x="270.20" y="551.99" font-size="8.68" text-anchor="end" fill="#1a1a1a" stroke="#1a1a1a" stroke-width="0.15" textLength="22.19" lengthAdjust="spacingAndGlyphs">0.895</text>
<line x1="272.30" y1="530.65" x2="275.50" y2="530.65" stroke="#333" stroke-width="0.8"/>
<text x="270.20" y="533.64" font-size="8.68" text-anchor="end" fill="#1a1a1a" stroke="#1a1a1a" stroke-width="0.15" textLength="22.19" lengthAdjust="spacingAndGlyphs">0.900</text>
<line x1="272.30" y1="512.30" x2="275.50" y2="512.30" stroke="#333" stroke-width="0.8"/>
<text x="270.20" y="515.29" font-size="8.68" text-anchor="end" fill="#1a1a1a" stroke="#1a1a1a" stroke-width="0.15" textLength="22.19" lengthAdjust="spacingAndGlyphs">0.905</text>
<line x1="272.30" y1="493.95" x2="275.50" y2="493.95" stroke="#333" stroke-width="0.8"/>
<text x="270.20" y="496.94" font-size="8.68" text-anchor="end" fill="#1a1a1a" stroke="#1a1a1a" stroke-width="0.15" textLength="22.19" lengthAdjust="spacingAndGlyphs">0.910</text>
<line x1="272.30" y1="475.60" x2="275.50" y2="475.60" stroke="#333" stroke-width="0.8"/>
<text x="270.20" y="478.59" font-size="8.68" text-anchor="end" fill="#1a1a1a" stroke="#1a1a1a" stroke-width="0.15" textLength="22.19" lengthAdjust="spacingAndGlyphs">0.915</text>
<line x1="272.30" y1="457.25" x2="275.50" y2="457.25" stroke="#333" stroke-width="0.8"/>
<text x="270.20" y="460.24" font-size="8.68" text-anchor="end" fill="#1a1a1a" stroke="#1a1a1a" stroke-width="0.15" textLength="22.19" lengthAdjust="spacingAndGlyphs">0.920</text>
<line x1="272.30" y1="438.90" x2="275.50" y2="438.90" stroke="#333" stroke-width="0.8"/>
<text x="270.20" y="441.89" font-size="8.68" text-anchor="end" fill="#1a1a1a" stroke="#1a1a1a" stroke-width="0.15" textLength="22.19" lengthAdjust="spacingAndGlyphs">0.925</text>
<line x1="302.80" y1="593.10" x2="302.80" y2="596.30" stroke="#333" stroke-width="0.8"/>
<text x="302.80" y="604.19" font-size="8.68" text-anchor="middle" fill="#1a1a1a" stroke="#1a1a1a" stroke-width="0.15" textLength="22.19" lengthAdjust="spacingAndGlyphs">0.925</text>
<line x1="335.95" y1="593.10" x2="335.95" y2="596.30" stroke="#333" stroke-width="0.8"/>
<text x="335.95" y="604.19" font-size="8.68" text-anchor="middle" fill="#1a1a1a" stroke="#1a1a1a" stroke-width="0.15" textLength="22.19" lengthAdjust="spacingAndGlyphs">0.930</text>
<line x1="369.10" y1="593.10" x2="369.10" y2="596.30" stroke="#333" stroke-width="0.8"/>
<text x="369.10" y="604.19" font-size="8.68" text-anchor="middle" fill="#1a1a1a" stroke="#1a1a1a" stroke-width="0.15" textLength="22.19" lengthAdjust="spacingAndGlyphs">0.935</text>
<line x1="402.25" y1="593.10" x2="402.25" y2="596.30" stroke="#333" stroke-width="0.8"/>
<text x="402.25" y="604.19" font-size="8.68" text-anchor="middle" fill="#1a1a1a" stroke="#1a1a1a" stroke-width="0.15" textLength="22.19" lengthAdjust="spacingAndGlyphs">0.940</text>
<text x="354.20" y="615.50" font-size="9.58" text-anchor="middle" fill="#1a1a1a" stroke="#1a1a1a" stroke-width="0.15" textLength="30.75" lengthAdjust="spacingAndGlyphs">AUROC</text>
<text x="240.30" y="518.40" font-size="9.58" text-anchor="middle" fill="#1a1a1a" stroke="#1a1a1a" stroke-width="0.15" textLength="28.75" lengthAdjust="spacingAndGlyphs" transform="rotate(-90 240.30 515.10)">AUPRC</text>
<line x1="399.60" y1="460.00" x2="426.50" y2="460.00" stroke="#8fcee0" stroke-width="1.2"/>
<line x1="413.00" y1="442.70" x2="413.00" y2="477.10" stroke="#8fcee0" stroke-width="1.2"/>
<line x1="399.60" y1="457.80" x2="399.60" y2="462.20" stroke="#8fcee0" stroke-width="1.0"/>
<line x1="426.50" y1="457.80" x2="426.50" y2="462.20" stroke="#8fcee0" stroke-width="1.0"/>
<line x1="410.80" y1="442.70" x2="415.20" y2="442.70" stroke="#8fcee0" stroke-width="1.0"/>
<line x1="410.80" y1="477.10" x2="415.20" y2="477.10" stroke="#8fcee0" stroke-width="1.0"/>
<circle cx="413.00" cy="460.00" r="2.5" fill="#6fb9d3"/>
<text x="413.30" y="458.59" font-size="8.68" text-anchor="start" fill="#1a1a1a" stroke="#1a1a1a" stroke-width="0.15" textLength="59.27" lengthAdjust="spacingAndGlyphs">CNN+Attention</text>
<line x1="349.60" y1="491.50" x2="402.20" y2="491.50" stroke="#eeb2b2" stroke-width="1.2"/>
<line x1="375.90" y1="479.60" x2="375.90" y2="503.20" stroke="#eeb2b2" stroke-width="1.2"/>
<line x1="349.60" y1="489.30" x2="349.60" y2="493.70" stroke="#eeb2b2" stroke-width="1.0"/>
<line x1="402.20" y1="489.30" x2="402.20" y2="493.70" stroke="#eeb2b2" stroke-width="1.0"/>
<line x1="373.70" y1="479.60" x2="378.10" y2="479.60" stroke="#eeb2b2" stroke-width="1.0"/>
<line x1="373.70" y1="503.20" x2="378.10" y2="503.20" stroke="#eeb2b2" stroke-width="1.0"/>
<circle cx="375.90" cy="491.50" r="2.5" fill="#eaa3a3"/>
<text x="376.20" y="490.09" font-size="8.68" text-anchor="start" fill="#1a1a1a" stroke="#1a1a1a" stroke-width="0.15" textLength="70.00" lengthAdjust="spacingAndGlyphs">CNN+Transformer</text>
<line x1="344.20" y1="535.20" x2="409.70" y2="535.20" stroke="#d0afdd" stroke-width="1.2"/>
<line x1="377.00" y1="519.10" x2="377.00" y2="551.20" stroke="#d0afdd" stroke-width="1.2"/>
<line x1="344.20" y1="533.00" x2="344.20" y2="537.40" stroke="#d0afdd" stroke-width="1.0"/>
<line x1="409.70" y1="533.00" x2="409.70" y2="537.40" stroke="#d0afdd" stroke-width="1.0"/>
<line x1="374.80" y1="519.10" x2="379.20" y2="519.10" stroke="#d0afdd" stroke-width="1.0"/>
<line x1="374.80" y1="551.20" x2="379.20" y2="551.20" stroke="#d0afdd" stroke-width="1.0"/>
<circle cx="377.00" cy="535.20" r="2.5" fill="#c8a0d8"/>
<text x="377.30" y="533.89" font-size="8.68" text-anchor="start" fill="#1a1a1a" stroke="#1a1a1a" stroke-width="0.15" textLength="21.73" lengthAdjust="spacingAndGlyphs">DanQ</text>
<line x1="282.20" y1="573.70" x2="333.00" y2="573.70" stroke="#86d8bb" stroke-width="1.2"/>
<line x1="307.50" y1="561.10" x2="307.50" y2="586.10" stroke="#86d8bb" stroke-width="1.2"/>
<line x1="282.20" y1="571.50" x2="282.20" y2="575.90" stroke="#86d8bb" stroke-width="1.0"/>
<line x1="333.00" y1="571.50" x2="333.00" y2="575.90" stroke="#86d8bb" stroke-width="1.0"/>
<line x1="305.30" y1="561.10" x2="309.70" y2="561.10" stroke="#86d8bb" stroke-width="1.0"/>
<line x1="305.30" y1="586.10" x2="309.70" y2="586.10" stroke="#86d8bb" stroke-width="1.0"/>
<circle cx="307.50" cy="573.70" r="2.5" fill="#72d0b0"/>
<text x="307.80" y="572.39" font-size="8.68" text-anchor="start" fill="#1a1a1a" stroke="#1a1a1a" stroke-width="0.15" textLength="35.54" lengthAdjust="spacingAndGlyphs">DeepSEA</text>
<text x="467.17" y="430.20" font-size="18.7" fill="#111">I</text>
<circle cx="580.0" cy="505.6" r="17.6" fill="none" stroke="#d4d4d4" stroke-width="0.7"/>
<circle cx="580.0" cy="505.6" r="35.2" fill="none" stroke="#d4d4d4" stroke-width="0.7"/>
<circle cx="580.0" cy="505.6" r="52.8" fill="none" stroke="#d4d4d4" stroke-width="0.7"/>
<line x1="580.00" y1="505.60" x2="652.00" y2="505.60" stroke="#d4d4d4" stroke-width="0.7"/>
<line x1="580.00" y1="505.60" x2="616.00" y2="443.25" stroke="#d4d4d4" stroke-width="0.7"/>
<line x1="580.00" y1="505.60" x2="544.00" y2="443.25" stroke="#d4d4d4" stroke-width="0.7"/>
<line x1="580.00" y1="505.60" x2="508.00" y2="505.60" stroke="#d4d4d4" stroke-width="0.7"/>
<line x1="580.00" y1="505.60" x2="544.00" y2="567.95" stroke="#d4d4d4" stroke-width="0.7"/>
<line x1="580.00" y1="505.60" x2="616.00" y2="567.95" stroke="#d4d4d4" stroke-width="0.7"/>
<polygon points="641.20,505.60 602.45,466.72 548.90,451.73 522.50,505.60 553.55,551.41 606.15,550.89" fill="#868995" fill-opacity="0.27" stroke="none"/>
<circle cx="580.0" cy="505.6" r="72" fill="none" stroke="#333" stroke-width="0.9"/>
<polygon points="639.00,505.60 602.10,467.32 549.40,452.60 525.30,505.60 553.90,550.81 605.80,550.29" fill="none" stroke="#c8a0d8" stroke-width="1.3" stroke-linejoin="miter"/>
<polygon points="641.20,505.60 602.10,467.32 549.30,452.43 522.50,505.60 553.90,550.81 605.80,550.29" fill="none" stroke="#72bfd8" stroke-width="1.3" stroke-linejoin="miter"/>
<polygon points="640.10,505.60 602.45,466.72 548.90,451.73 523.90,505.60 553.55,551.41 606.15,550.89" fill="none" stroke="#eba7a7" stroke-width="1.3" stroke-linejoin="miter"/>
<polygon points="638.60,505.60 601.90,467.67 549.60,452.95 527.20,505.60 554.20,550.29 605.60,549.94" fill="none" stroke="#6fd0b0" stroke-width="1.3" stroke-linejoin="miter"/>
<text x="585.40" y="504.38" font-size="7.5" text-anchor="middle" fill="#a0a0a0" stroke="#a0a0a0" stroke-width="0.15" textLength="10.66" lengthAdjust="spacingAndGlyphs">0.6</text>
<text x="602.20" y="497.48" font-size="7.5" text-anchor="middle" fill="#a0a0a0" stroke="#a0a0a0" stroke-width="0.15" textLength="10.66" lengthAdjust="spacingAndGlyphs">0.7</text>
<text x="618.70" y="490.68" font-size="7.5" text-anchor="middle" fill="#a0a0a0" stroke="#a0a0a0" stroke-width="0.15" textLength="10.66" lengthAdjust="spacingAndGlyphs">0.8</text>
<text x="635.30" y="483.88" font-size="7.5" text-anchor="middle" fill="#a0a0a0" stroke="#a0a0a0" stroke-width="0.15" textLength="10.66" lengthAdjust="spacingAndGlyphs">0.9</text>
<text x="651.60" y="476.88" font-size="7.5" text-anchor="middle" fill="#a0a0a0" stroke="#a0a0a0" stroke-width="0.15" textLength="10.66" lengthAdjust="spacingAndGlyphs">1.0</text>
<text x="536.60" y="433.88" font-size="8.96" text-anchor="middle" fill="#1a1a1a" stroke="#1a1a1a" stroke-width="0.15" textLength="43.60" lengthAdjust="spacingAndGlyphs">Sensitivity</text>
<text x="622.90" y="433.88" font-size="8.96" text-anchor="middle" fill="#1a1a1a" stroke="#1a1a1a" stroke-width="0.15" textLength="37.00" lengthAdjust="spacingAndGlyphs">Precision</text>
<text x="493.70" y="508.78" font-size="8.96" text-anchor="middle" fill="#1a1a1a" stroke="#1a1a1a" stroke-width="0.15" textLength="28.90" lengthAdjust="spacingAndGlyphs">AUPRC</text>
<text x="666.50" y="508.78" font-size="8.96" text-anchor="middle" fill="#1a1a1a" stroke="#1a1a1a" stroke-width="0.15" textLength="30.30" lengthAdjust="spacingAndGlyphs">AUROC</text>
<text x="536.40" y="583.28" font-size="8.96" text-anchor="middle" fill="#1a1a1a" stroke="#1a1a1a" stroke-width="0.15" textLength="35.30" lengthAdjust="spacingAndGlyphs">F1 score</text>
<text x="622.60" y="583.28" font-size="8.96" text-anchor="middle" fill="#1a1a1a" stroke="#1a1a1a" stroke-width="0.15" textLength="37.60" lengthAdjust="spacingAndGlyphs">Accuracy</text>
<line x1="497.00" y1="598.00" x2="513.80" y2="598.00" stroke="#c8a0d8" stroke-width="1.3"/>
<text x="518.80" y="601.04" font-size="8.85" text-anchor="start" fill="#1a1a1a" stroke="#1a1a1a" stroke-width="0.15" textLength="22.15" lengthAdjust="spacingAndGlyphs">DanQ</text>
<line x1="497.00" y1="609.10" x2="513.80" y2="609.10" stroke="#6fd0b0" stroke-width="1.3"/>
<text x="518.80" y="612.14" font-size="8.85" text-anchor="start" fill="#1a1a1a" stroke="#1a1a1a" stroke-width="0.15" textLength="36.23" lengthAdjust="spacingAndGlyphs">DeepSEA</text>
<line x1="570.80" y1="598.00" x2="587.60" y2="598.00" stroke="#72bfd8" stroke-width="1.3"/>
<text x="592.70" y="601.04" font-size="8.85" text-anchor="start" fill="#1a1a1a" stroke="#1a1a1a" stroke-width="0.15" textLength="60.42" lengthAdjust="spacingAndGlyphs">CNN+Attention</text>
<line x1="570.80" y1="609.10" x2="587.60" y2="609.10" stroke="#eba7a7" stroke-width="1.3"/>
<text x="592.70" y="612.14" font-size="8.85" text-anchor="start" fill="#1a1a1a" stroke="#1a1a1a" stroke-width="0.15" textLength="71.36" lengthAdjust="spacingAndGlyphs">CNN+Transformer</text>
</svg></body></html>
